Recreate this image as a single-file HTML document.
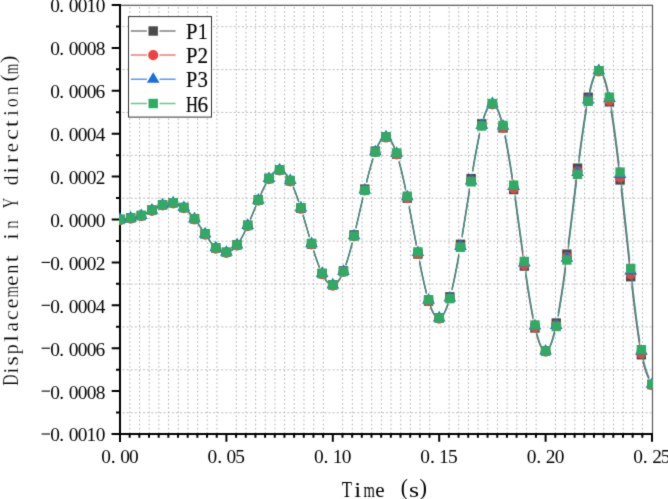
<!DOCTYPE html>
<html><head><meta charset="utf-8"><style>
html,body{margin:0;padding:0;background:#fff;}
svg{display:block;}
#w{width:668px;height:499px;}
</style></head><body>
<div id="w"><svg width="668" height="499" viewBox="0 0 668 499">
<rect width="668" height="499" fill="#fff"/>
<defs><filter id="bl" x="0" y="0" width="668" height="499" filterUnits="userSpaceOnUse" color-interpolation-filters="sRGB"><feConvolveMatrix order="3" kernelMatrix="0.01440 0.09120 0.01440 0.09120 0.57760 0.09120 0.01440 0.09120 0.01440" edgeMode="duplicate" preserveAlpha="true"/></filter></defs>
<g filter="url(#bl)">
<rect width="668" height="499" fill="#fff"/>
<path d="M129.87,7.1V433 M139.55,7.1V433 M149.22,7.1V433 M158.89,7.1V433 M168.56,7.1V433 M178.24,7.1V433 M187.91,7.1V433 M197.58,7.1V433 M207.25,7.1V433 M216.93,7.1V433 M236.27,7.1V433 M245.95,7.1V433 M255.62,7.1V433 M265.29,7.1V433 M274.96,7.1V433 M284.64,7.1V433 M294.31,7.1V433 M303.98,7.1V433 M313.65,7.1V433 M323.33,7.1V433 M342.67,7.1V433 M352.35,7.1V433 M362.02,7.1V433 M371.69,7.1V433 M381.36,7.1V433 M391.04,7.1V433 M400.71,7.1V433 M410.38,7.1V433 M420.05,7.1V433 M429.73,7.1V433 M449.07,7.1V433 M458.75,7.1V433 M468.42,7.1V433 M478.09,7.1V433 M487.76,7.1V433 M497.44,7.1V433 M507.11,7.1V433 M516.78,7.1V433 M526.45,7.1V433 M536.13,7.1V433 M555.47,7.1V433 M565.15,7.1V433 M574.82,7.1V433 M584.49,7.1V433 M594.16,7.1V433 M603.84,7.1V433 M613.51,7.1V433 M623.18,7.1V433 M632.85,7.1V433 M642.53,7.1V433" stroke="#b2b2b2" stroke-width="1" stroke-dasharray="1.6 2.525" fill="none"/>
<path d="M122.4,412.75H651.5 M122.4,369.85H651.5 M122.4,326.95H651.5 M122.4,284.05H651.5 M122.4,241.15H651.5 M122.4,198.25H651.5 M122.4,155.35H651.5 M122.4,112.45H651.5 M122.4,69.55H651.5 M122.4,26.65H651.5" stroke="#bebebe" stroke-width="1" stroke-dasharray="2.1 2.02" fill="none"/>
<path d="M120.0,4V442" stroke="#000" stroke-width="2" fill="none"/>
<path d="M111.7,434.0H653" stroke="#000" stroke-width="2" fill="none"/>
<path d="M121,5.3H653" stroke="#333" stroke-width="1.1" fill="none"/>
<path d="M652.5,5.0V433" stroke="#5a5a5a" stroke-width="1.2" fill="none"/>
<path d="M111.7,5.00H120.0 M111.7,47.90H120.0 M111.7,90.80H120.0 M111.7,133.70H120.0 M111.7,176.60H120.0 M111.7,219.50H120.0 M111.7,262.40H120.0 M111.7,305.30H120.0 M111.7,348.20H120.0 M111.7,391.10H120.0 M111.7,434.00H120.0 M116,26.45H120.0 M116,69.35H120.0 M116,112.25H120.0 M116,155.15H120.0 M116,198.05H120.0 M116,240.95H120.0 M116,283.85H120.0 M116,326.75H120.0 M116,369.65H120.0 M116,412.55H120.0 M120.00,434.0V441.8 M129.67,434.0V437.8 M139.35,434.0V437.8 M149.02,434.0V437.8 M158.69,434.0V437.8 M168.36,434.0V437.8 M178.04,434.0V437.8 M187.71,434.0V437.8 M197.38,434.0V437.8 M207.05,434.0V437.8 M216.73,434.0V437.8 M226.40,434.0V441.8 M236.07,434.0V437.8 M245.75,434.0V437.8 M255.42,434.0V437.8 M265.09,434.0V437.8 M274.76,434.0V437.8 M284.44,434.0V437.8 M294.11,434.0V437.8 M303.78,434.0V437.8 M313.45,434.0V437.8 M323.13,434.0V437.8 M332.80,434.0V441.8 M342.47,434.0V437.8 M352.15,434.0V437.8 M361.82,434.0V437.8 M371.49,434.0V437.8 M381.16,434.0V437.8 M390.84,434.0V437.8 M400.51,434.0V437.8 M410.18,434.0V437.8 M419.85,434.0V437.8 M429.53,434.0V437.8 M439.20,434.0V441.8 M448.87,434.0V437.8 M458.55,434.0V437.8 M468.22,434.0V437.8 M477.89,434.0V437.8 M487.56,434.0V437.8 M497.24,434.0V437.8 M506.91,434.0V437.8 M516.58,434.0V437.8 M526.25,434.0V437.8 M535.93,434.0V437.8 M545.60,434.0V441.8 M555.27,434.0V437.8 M564.95,434.0V437.8 M574.62,434.0V437.8 M584.29,434.0V437.8 M593.96,434.0V437.8 M603.64,434.0V437.8 M613.31,434.0V437.8 M622.98,434.0V437.8 M632.65,434.0V437.8 M642.33,434.0V437.8 M652.00,434.0V441.8" stroke="#000" stroke-width="2" fill="none"/>
<defs><clipPath id="pc"><rect x="119" y="5.0" width="534.0" height="429.0"/></clipPath></defs>
<g clip-path="url(#pc)">
<path d="M124.79,218.74 L125.05,218.70 L125.32,218.66 L125.59,218.62 L125.85,218.59 M135.43,217.11 L135.69,217.05 L135.96,217.00 L136.23,216.94 L136.49,216.89 M145.80,213.46 L146.07,213.32 L146.33,213.18 L146.60,213.04 L146.87,212.90 L147.13,212.76 L147.40,212.62 M156.44,207.65 L156.71,207.51 L156.97,207.37 L157.24,207.24 L157.51,207.10 L157.77,206.97 L158.04,206.84 M167.35,203.20 L167.61,203.14 L167.88,203.08 L168.15,203.02 M177.99,203.97 L178.25,204.09 L178.52,204.21 L178.79,204.33 L179.05,204.46 L179.32,204.60 L179.58,204.73 M187.83,211.10 L188.10,211.36 L188.36,211.63 L188.63,211.91 L188.89,212.19 L189.16,212.47 L189.43,212.75 L189.69,213.04 L189.96,213.33 L190.22,213.63 L190.49,213.92 L190.76,214.23 L191.02,214.53 M197.94,223.46 L198.20,223.83 L198.47,224.21 L198.74,224.59 L199.00,224.97 L199.27,225.35 L199.53,225.74 L199.80,226.12 L200.07,226.51 L200.33,226.90 L200.60,227.28 L200.86,227.67 L201.13,228.06 L201.40,228.46 L201.66,228.85 L201.93,229.24 M208.31,238.68 L208.58,239.06 L208.84,239.44 L209.11,239.82 L209.38,240.19 L209.64,240.56 L209.91,240.93 L210.17,241.29 L210.44,241.65 L210.71,242.01 L210.97,242.36 L211.24,242.71 L211.50,243.05 L211.77,243.39 L212.04,243.73 M219.75,250.87 L220.02,251.01 L220.28,251.14 L220.55,251.27 L220.81,251.40 L221.08,251.51 L221.35,251.62 M231.19,250.46 L231.45,250.28 L231.72,250.10 L231.99,249.91 L232.25,249.71 L232.52,249.51 L232.78,249.29 L233.05,249.07 L233.32,248.84 L233.58,248.60 M240.23,240.00 L240.50,239.55 L240.76,239.10 L241.03,238.64 L241.30,238.18 L241.56,237.70 L241.83,237.22 L242.09,236.74 L242.36,236.24 L242.63,235.75 L242.89,235.24 L243.16,234.73 L243.42,234.21 L243.69,233.69 L243.96,233.16 L244.22,232.63 L244.49,232.09 L244.75,231.55 L245.02,231.00 L245.29,230.44 M250.34,219.10 L250.61,218.47 L250.87,217.83 L251.14,217.20 L251.40,216.56 L251.67,215.92 L251.94,215.28 L252.20,214.64 L252.47,214.00 L252.73,213.36 L253.00,212.71 L253.27,212.07 L253.53,211.42 L253.80,210.78 L254.06,210.13 L254.33,209.48 L254.60,208.84 L254.86,208.19 L255.13,207.55 L255.39,206.90 L255.66,206.26 L255.93,205.62 M260.71,194.38 L260.98,193.79 L261.25,193.19 L261.51,192.61 L261.78,192.02 L262.04,191.45 L262.31,190.87 L262.58,190.30 L262.84,189.74 L263.11,189.18 L263.37,188.62 L263.64,188.07 L263.91,187.53 L264.17,186.99 L264.44,186.45 L264.70,185.93 L264.97,185.41 L265.24,184.89 L265.50,184.38 L265.77,183.88 M272.15,174.05 L272.42,173.75 L272.68,173.46 L272.95,173.18 L273.22,172.91 L273.48,172.65 L273.75,172.40 L274.01,172.16 L274.28,171.93 L274.55,171.71 L274.81,171.51 M284.39,172.32 L284.65,172.58 L284.92,172.85 L285.19,173.14 L285.45,173.43 L285.72,173.74 L285.98,174.06 L286.25,174.39 L286.52,174.73 L286.78,175.09 L287.05,175.46 L287.31,175.83 L287.58,176.22 M293.17,186.93 L293.43,187.55 L293.70,188.18 L293.96,188.82 L294.23,189.47 L294.50,190.13 L294.76,190.79 L295.03,191.47 L295.29,192.15 L295.56,192.85 L295.83,193.55 L296.09,194.26 L296.36,194.97 L296.62,195.70 L296.89,196.43 L297.16,197.17 L297.42,197.92 L297.69,198.68 L297.95,199.45 L298.22,200.22 L298.49,201.00 L298.75,201.78 M303.01,215.22 L303.27,216.11 L303.54,217.00 L303.81,217.89 L304.07,218.78 L304.34,219.68 L304.60,220.58 L304.87,221.48 L305.14,222.39 L305.40,223.30 L305.67,224.21 L305.93,225.12 L306.20,226.03 L306.47,226.94 L306.73,227.85 L307.00,228.77 L307.26,229.68 L307.53,230.59 L307.80,231.50 L308.06,232.42 L308.33,233.33 L308.59,234.24 L308.86,235.15 L309.13,236.05 L309.39,236.96 M313.65,250.95 L313.91,251.79 L314.18,252.61 L314.45,253.43 L314.71,254.25 L314.98,255.06 L315.24,255.86 L315.51,256.65 L315.78,257.44 L316.04,258.22 L316.31,258.99 L316.57,259.75 L316.84,260.51 L317.11,261.26 L317.37,262.00 L317.64,262.73 L317.90,263.45 L318.17,264.16 L318.44,264.87 L318.70,265.56 L318.97,266.25 L319.23,266.92 L319.50,267.59 M324.82,278.57 L325.09,278.99 L325.35,279.40 L325.62,279.79 L325.88,280.17 L326.15,280.53 L326.42,280.88 L326.68,281.22 L326.95,281.55 L327.21,281.86 L327.48,282.15 L327.75,282.43 L328.01,282.70 M337.32,282.06 L337.59,281.74 L337.85,281.42 L338.12,281.07 L338.39,280.71 L338.65,280.34 L338.92,279.95 L339.18,279.54 L339.45,279.12 L339.72,278.68 L339.98,278.23 L340.25,277.76 L340.51,277.27 L340.78,276.77 L341.05,276.26 M345.83,264.45 L346.10,263.66 L346.37,262.85 L346.63,262.04 L346.90,261.21 L347.16,260.37 L347.43,259.52 L347.70,258.66 L347.96,257.78 L348.23,256.90 L348.49,256.00 L348.76,255.09 L349.03,254.17 L349.29,253.25 L349.56,252.31 L349.82,251.36 L350.09,250.40 L350.36,249.43 L350.62,248.45 L350.89,247.46 L351.15,246.46 L351.42,245.45 L351.69,244.44 L351.95,243.41 L352.22,242.38 M355.94,227.16 L356.21,226.03 L356.47,224.89 L356.74,223.75 L357.01,222.61 L357.27,221.46 L357.54,220.31 L357.80,219.16 L358.07,218.00 L358.34,216.84 L358.60,215.68 L358.87,214.52 L359.13,213.35 L359.40,212.19 L359.67,211.02 L359.93,209.86 L360.20,208.69 L360.46,207.53 L360.73,206.36 L361.00,205.19 L361.26,204.03 L361.53,202.87 L361.79,201.70 L362.06,200.55 L362.33,199.39 L362.59,198.23 L362.86,197.08 M366.58,181.40 L366.85,180.33 L367.11,179.26 L367.38,178.20 L367.65,177.14 L367.91,176.10 L368.18,175.06 L368.44,174.03 L368.71,173.01 L368.98,172.00 L369.24,171.00 L369.51,170.01 L369.77,169.03 L370.04,168.05 L370.31,167.09 L370.57,166.14 L370.84,165.20 L371.10,164.27 L371.37,163.35 L371.64,162.45 L371.90,161.55 L372.17,160.67 L372.43,159.80 L372.70,158.95 L372.97,158.10 M377.49,145.99 L377.75,145.42 L378.02,144.87 L378.29,144.33 L378.55,143.82 L378.82,143.32 L379.08,142.83 L379.35,142.37 L379.62,141.92 L379.88,141.49 L380.15,141.07 L380.41,140.68 L380.68,140.30 L380.95,139.95 L381.21,139.61 M390.52,140.35 L390.79,140.74 L391.05,141.14 L391.32,141.57 L391.59,142.02 L391.85,142.49 L392.12,142.97 L392.38,143.48 L392.65,144.00 L392.92,144.55 L393.18,145.11 L393.45,145.69 L393.71,146.29 L393.98,146.91 L394.25,147.55 L394.51,148.20 L394.78,148.88 M399.03,162.10 L399.30,163.07 L399.57,164.05 L399.83,165.05 L400.10,166.06 L400.36,167.09 L400.63,168.14 L400.90,169.19 L401.16,170.26 L401.43,171.35 L401.69,172.44 L401.96,173.55 L402.23,174.68 L402.49,175.81 L402.76,176.96 L403.02,178.12 L403.29,179.30 L403.56,180.48 L403.82,181.67 L404.09,182.88 L404.35,184.10 L404.62,185.33 L404.89,186.56 L405.15,187.81 L405.42,189.07 L405.68,190.34 M409.14,207.59 L409.41,208.96 L409.67,210.34 L409.94,211.73 L410.21,213.12 L410.47,214.51 L410.74,215.91 L411.00,217.31 L411.27,218.72 L411.54,220.13 L411.80,221.54 L412.07,222.95 L412.33,224.37 L412.60,225.79 L412.87,227.21 L413.13,228.63 L413.40,230.05 L413.66,231.47 L413.93,232.89 L414.20,234.32 L414.46,235.74 L414.73,237.16 L414.99,238.58 L415.26,239.99 L415.53,241.41 L415.79,242.83 L416.06,244.24 L416.32,245.65 M419.52,262.22 L419.78,263.56 L420.05,264.90 L420.31,266.23 L420.58,267.54 L420.85,268.85 L421.11,270.15 L421.38,271.44 L421.64,272.72 L421.91,273.99 L422.18,275.25 L422.44,276.50 L422.71,277.73 L422.97,278.95 L423.24,280.16 L423.51,281.36 L423.77,282.54 L424.04,283.71 L424.30,284.87 L424.57,286.01 L424.84,287.14 L425.10,288.25 L425.37,289.34 L425.63,290.42 L425.90,291.48 L426.17,292.53 L426.43,293.55 M430.42,306.63 L430.69,307.33 L430.95,308.01 L431.22,308.67 L431.49,309.31 L431.75,309.92 L432.02,310.52 L432.28,311.09 L432.55,311.64 L432.82,312.16 L433.08,312.67 L433.35,313.15 L433.61,313.61 L433.88,314.05 L434.15,314.46 L434.41,314.85 M443.46,313.88 L443.72,313.43 L443.99,312.96 L444.25,312.47 L444.52,311.95 L444.79,311.41 L445.05,310.84 L445.32,310.25 L445.58,309.64 L445.85,309.01 L446.12,308.36 L446.38,307.68 L446.65,306.98 L446.91,306.26 L447.18,305.51 L447.45,304.74 L447.71,303.96 L447.98,303.14 M451.97,288.44 L452.23,287.29 L452.50,286.13 L452.77,284.96 L453.03,283.76 L453.30,282.55 L453.56,281.32 L453.83,280.07 L454.10,278.81 L454.36,277.53 L454.63,276.23 L454.89,274.92 L455.16,273.60 L455.43,272.26 L455.69,270.90 L455.96,269.53 L456.22,268.14 L456.49,266.75 L456.76,265.34 L457.02,263.91 L457.29,262.47 L457.55,261.02 L457.82,259.56 L458.09,258.09 L458.35,256.60 L458.62,255.10 L458.88,253.60 M462.08,234.77 L462.34,233.15 L462.61,231.52 L462.87,229.89 L463.14,228.25 L463.41,226.61 L463.67,224.97 L463.94,223.32 L464.20,221.66 L464.47,220.00 L464.74,218.34 L465.00,216.68 L465.27,215.02 L465.53,213.35 L465.80,211.68 L466.07,210.01 L466.33,208.34 L466.60,206.67 L466.86,205.00 L467.13,203.33 L467.40,201.66 L467.66,199.99 L467.93,198.33 L468.19,196.67 L468.46,195.00 L468.73,193.35 L468.99,191.69 L469.26,190.04 L469.52,188.39 M472.72,169.07 L472.98,167.51 L473.25,165.96 L473.51,164.42 L473.78,162.89 L474.05,161.38 L474.31,159.87 L474.58,158.37 L474.84,156.89 L475.11,155.42 L475.38,153.96 L475.64,152.51 L475.91,151.08 L476.17,149.66 L476.44,148.26 L476.71,146.87 L476.97,145.50 L477.24,144.14 L477.50,142.80 L477.77,141.48 L478.04,140.17 L478.30,138.88 L478.57,137.61 L478.83,136.36 L479.10,135.12 L479.37,133.91 L479.63,132.71 M483.36,118.24 L483.62,117.38 L483.89,116.55 L484.15,115.74 L484.42,114.95 L484.69,114.19 L484.95,113.46 L485.22,112.75 L485.48,112.06 L485.75,111.40 L486.02,110.77 L486.28,110.16 L486.55,109.58 L486.81,109.02 L487.08,108.49 L487.35,107.99 L487.61,107.51 M496.66,108.10 L496.92,108.61 L497.19,109.16 L497.45,109.73 L497.72,110.33 L497.99,110.96 L498.25,111.62 L498.52,112.30 L498.78,113.01 L499.05,113.74 L499.32,114.51 L499.58,115.30 L499.85,116.11 L500.11,116.96 L500.38,117.83 L500.65,118.72 L500.91,119.64 L501.18,120.59 L501.44,121.56 M504.90,136.49 L505.17,137.80 L505.43,139.14 L505.70,140.50 L505.97,141.88 L506.23,143.28 L506.50,144.70 L506.76,146.14 L507.03,147.60 L507.30,149.09 L507.56,150.59 L507.83,152.10 L508.09,153.64 L508.36,155.20 L508.63,156.77 L508.89,158.36 L509.16,159.97 L509.42,161.59 L509.69,163.23 L509.96,164.88 L510.22,166.55 L510.49,168.24 L510.75,169.94 L511.02,171.66 L511.29,173.38 L511.55,175.13 L511.82,176.88 L512.08,178.65 L512.35,180.43 M515.01,198.84 L515.28,200.73 L515.54,202.63 L515.81,204.53 L516.07,206.45 L516.34,208.36 L516.61,210.29 L516.87,212.21 L517.14,214.14 L517.40,216.08 L517.67,218.02 L517.94,219.96 L518.20,221.90 L518.47,223.85 L518.73,225.79 L519.00,227.74 L519.27,229.69 L519.53,231.63 L519.80,233.58 L520.06,235.52 L520.33,237.47 L520.60,239.41 L520.86,241.34 L521.13,243.28 L521.39,245.21 L521.66,247.13 L521.93,249.05 L522.19,250.97 L522.46,252.88 L522.72,254.78 L522.99,256.68 M525.65,275.15 L525.92,276.94 L526.18,278.72 L526.45,280.48 L526.71,282.23 L526.98,283.97 L527.25,285.69 L527.51,287.40 L527.78,289.10 L528.04,290.78 L528.31,292.44 L528.58,294.09 L528.84,295.73 L529.11,297.34 L529.37,298.94 L529.64,300.52 L529.91,302.09 L530.17,303.63 L530.44,305.16 L530.70,306.67 L530.97,308.16 L531.24,309.63 L531.50,311.08 L531.77,312.51 L532.03,313.92 L532.30,315.31 L532.57,316.68 L532.83,318.02 L533.10,319.35 M536.56,334.34 L536.82,335.32 L537.09,336.26 L537.35,337.18 L537.62,338.07 L537.89,338.94 L538.15,339.77 L538.42,340.58 L538.68,341.36 L538.95,342.11 L539.22,342.83 L539.48,343.52 L539.75,344.19 L540.01,344.82 L540.28,345.43 L540.55,346.00 L540.81,346.55 L541.08,347.06 M549.86,345.71 L550.12,345.11 L550.39,344.48 L550.65,343.82 L550.92,343.12 L551.19,342.40 L551.45,341.64 L551.72,340.86 L551.98,340.04 L552.25,339.19 L552.52,338.32 L552.78,337.41 L553.05,336.48 L553.31,335.51 L553.58,334.52 L553.85,333.50 L554.11,332.45 L554.38,331.37 L554.64,330.26 M558.10,313.40 L558.37,311.93 L558.63,310.43 L558.90,308.90 L559.17,307.35 L559.43,305.79 L559.70,304.19 L559.96,302.58 L560.23,300.94 L560.50,299.29 L560.76,297.61 L561.03,295.91 L561.29,294.19 L561.56,292.46 L561.83,290.70 L562.09,288.92 L562.36,287.13 L562.62,285.32 L562.89,283.48 L563.16,281.64 L563.42,279.77 L563.69,277.89 L563.95,275.99 L564.22,274.08 L564.49,272.15 L564.75,270.21 L565.02,268.25 L565.28,266.27 L565.55,264.29 M568.21,243.73 L568.48,241.62 L568.74,239.50 L569.01,237.37 L569.27,235.23 L569.54,233.09 L569.81,230.94 L570.07,228.78 L570.34,226.62 L570.60,224.45 L570.87,222.28 L571.14,220.11 L571.40,217.93 L571.67,215.75 L571.93,213.56 L572.20,211.38 L572.47,209.20 L572.73,207.01 L573.00,204.82 L573.26,202.64 L573.53,200.45 L573.80,198.27 L574.06,196.09 L574.33,193.91 L574.59,191.74 L574.86,189.57 L575.13,187.40 L575.39,185.24 L575.66,183.08 L575.92,180.93 L576.19,178.79 L576.46,176.65 M578.85,157.82 L579.12,155.78 L579.38,153.75 L579.65,151.74 L579.91,149.74 L580.18,147.75 L580.45,145.78 L580.71,143.82 L580.98,141.88 L581.24,139.96 L581.51,138.05 L581.78,136.16 L582.04,134.29 L582.31,132.43 L582.57,130.60 L582.84,128.78 L583.11,126.98 L583.37,125.20 L583.64,123.45 L583.90,121.71 L584.17,120.00 L584.44,118.31 L584.70,116.64 L584.97,114.99 L585.23,113.37 L585.50,111.77 L585.77,110.19 L586.03,108.65 L586.30,107.12 L586.56,105.63 M589.49,91.02 L589.76,89.87 L590.02,88.76 L590.29,87.67 L590.55,86.62 L590.82,85.59 L591.09,84.60 L591.35,83.64 L591.62,82.72 L591.88,81.82 L592.15,80.96 L592.42,80.13 L592.68,79.34 L592.95,78.58 L593.21,77.85 L593.48,77.15 L593.75,76.49 L594.01,75.87 L594.28,75.28 M603.06,76.41 L603.32,77.08 L603.59,77.78 L603.85,78.52 L604.12,79.29 L604.39,80.09 L604.65,80.94 L604.92,81.81 L605.18,82.72 L605.45,83.67 L605.72,84.65 L605.98,85.66 L606.25,86.71 L606.51,87.79 L606.78,88.90 L607.05,90.05 L607.31,91.23 L607.58,92.44 L607.84,93.68 L608.11,94.96 M611.04,111.10 L611.30,112.75 L611.57,114.42 L611.83,116.12 L612.10,117.85 L612.37,119.61 L612.63,121.39 L612.90,123.20 L613.16,125.03 L613.43,126.89 L613.70,128.77 L613.96,130.68 L614.23,132.60 L614.49,134.56 L614.76,136.53 L615.03,138.52 L615.29,140.54 L615.56,142.58 L615.82,144.64 L616.09,146.71 L616.36,148.81 L616.62,150.93 L616.89,153.06 L617.15,155.21 L617.42,157.38 L617.69,159.57 L617.95,161.77 L618.22,163.99 L618.48,166.22 L618.75,168.47 L619.02,170.74 M621.14,189.31 L621.41,191.68 L621.68,194.07 L621.94,196.46 L622.21,198.86 L622.47,201.26 L622.74,203.68 L623.01,206.10 L623.27,208.52 L623.54,210.96 L623.80,213.39 L624.07,215.83 L624.34,218.28 L624.60,220.73 L624.87,223.18 L625.13,225.63 L625.40,228.09 L625.67,230.55 L625.93,233.00 L626.20,235.46 L626.46,237.92 L626.73,240.37 L627.00,242.83 L627.26,245.28 L627.53,247.73 L627.79,250.17 L628.06,252.61 L628.33,255.05 L628.59,257.48 L628.86,259.91 L629.12,262.33 L629.39,264.75 L629.66,267.15 M631.78,286.09 L632.05,288.40 L632.32,290.70 L632.58,292.99 L632.85,295.26 L633.11,297.52 L633.38,299.75 L633.65,301.97 L633.91,304.17 L634.18,306.35 L634.44,308.51 L634.71,310.65 L634.98,312.77 L635.24,314.86 L635.51,316.93 L635.77,318.98 L636.04,320.99 L636.31,322.99 L636.57,324.95 L636.84,326.89 L637.10,328.80 L637.37,330.68 L637.64,332.53 L637.90,334.35 L638.17,336.13 L638.43,337.89 L638.70,339.61 L638.97,341.29 L639.23,342.94 L639.50,344.55 L639.76,346.13 M642.96,361.94 L643.22,363.00 L643.49,364.02 L643.75,365.01 L644.02,365.97 L644.29,366.90 L644.55,367.80 L644.82,368.66 L645.08,369.50 L645.35,370.31 L645.62,371.09 L645.88,371.85 L646.15,372.58 L646.41,373.29 L646.68,373.98 L646.95,374.64 L647.21,375.29 L647.48,375.91 L647.74,376.52 L648.01,377.11 L648.28,377.68 L648.54,378.24 L648.81,378.79" stroke="#4A4A4A" stroke-width="1.2" stroke-opacity="0.75" fill="none" stroke-linejoin="round"/>
<rect x="115.30" y="214.70" width="9.4" height="9.4" fill="#4A4A4A"/><rect x="125.94" y="213.20" width="9.4" height="9.4" fill="#4A4A4A"/><rect x="136.58" y="210.80" width="9.4" height="9.4" fill="#4A4A4A"/><rect x="147.22" y="205.39" width="9.4" height="9.4" fill="#4A4A4A"/><rect x="157.86" y="200.09" width="9.4" height="9.4" fill="#4A4A4A"/><rect x="168.50" y="198.00" width="9.4" height="9.4" fill="#4A4A4A"/><rect x="179.14" y="202.83" width="9.4" height="9.4" fill="#4A4A4A"/><rect x="189.78" y="214.07" width="9.4" height="9.4" fill="#4A4A4A"/><rect x="200.42" y="229.29" width="9.4" height="9.4" fill="#4A4A4A"/><rect x="211.06" y="243.17" width="9.4" height="9.4" fill="#4A4A4A"/><rect x="221.70" y="247.59" width="9.4" height="9.4" fill="#4A4A4A"/><rect x="232.34" y="240.06" width="9.4" height="9.4" fill="#4A4A4A"/><rect x="242.98" y="220.54" width="9.4" height="9.4" fill="#4A4A4A"/><rect x="253.62" y="195.20" width="9.4" height="9.4" fill="#4A4A4A"/><rect x="264.26" y="173.68" width="9.4" height="9.4" fill="#4A4A4A"/><rect x="274.90" y="165.12" width="9.4" height="9.4" fill="#4A4A4A"/><rect x="285.54" y="176.04" width="9.4" height="9.4" fill="#4A4A4A"/><rect x="296.18" y="203.61" width="9.4" height="9.4" fill="#4A4A4A"/><rect x="306.82" y="239.39" width="9.4" height="9.4" fill="#4A4A4A"/><rect x="317.46" y="268.97" width="9.4" height="9.4" fill="#4A4A4A"/><rect x="328.10" y="280.17" width="9.4" height="9.4" fill="#4A4A4A"/><rect x="338.74" y="266.24" width="9.4" height="9.4" fill="#4A4A4A"/><rect x="349.38" y="230.23" width="9.4" height="9.4" fill="#4A4A4A"/><rect x="360.02" y="184.42" width="9.4" height="9.4" fill="#4A4A4A"/><rect x="370.66" y="146.44" width="9.4" height="9.4" fill="#4A4A4A"/><rect x="381.30" y="132.14" width="9.4" height="9.4" fill="#4A4A4A"/><rect x="391.94" y="149.41" width="9.4" height="9.4" fill="#4A4A4A"/><rect x="402.58" y="193.44" width="9.4" height="9.4" fill="#4A4A4A"/><rect x="413.22" y="249.33" width="9.4" height="9.4" fill="#4A4A4A"/><rect x="423.86" y="296.40" width="9.4" height="9.4" fill="#4A4A4A"/><rect x="434.50" y="313.13" width="9.4" height="9.4" fill="#4A4A4A"/><rect x="445.14" y="292.16" width="9.4" height="9.4" fill="#4A4A4A"/><rect x="455.78" y="239.64" width="9.4" height="9.4" fill="#4A4A4A"/><rect x="466.42" y="173.91" width="9.4" height="9.4" fill="#4A4A4A"/><rect x="477.06" y="119.20" width="9.4" height="9.4" fill="#4A4A4A"/><rect x="487.70" y="98.96" width="9.4" height="9.4" fill="#4A4A4A"/><rect x="498.34" y="123.23" width="9.4" height="9.4" fill="#4A4A4A"/><rect x="508.98" y="184.81" width="9.4" height="9.4" fill="#4A4A4A"/><rect x="519.62" y="261.34" width="9.4" height="9.4" fill="#4A4A4A"/><rect x="530.26" y="323.25" width="9.4" height="9.4" fill="#4A4A4A"/><rect x="540.90" y="346.21" width="9.4" height="9.4" fill="#4A4A4A"/><rect x="551.54" y="318.34" width="9.4" height="9.4" fill="#4A4A4A"/><rect x="562.18" y="249.46" width="9.4" height="9.4" fill="#4A4A4A"/><rect x="572.82" y="163.48" width="9.4" height="9.4" fill="#4A4A4A"/><rect x="583.46" y="92.52" width="9.4" height="9.4" fill="#4A4A4A"/><rect x="594.10" y="66.05" width="9.4" height="9.4" fill="#4A4A4A"/><rect x="604.74" y="97.13" width="9.4" height="9.4" fill="#4A4A4A"/><rect x="615.38" y="175.23" width="9.4" height="9.4" fill="#4A4A4A"/><rect x="626.02" y="272.00" width="9.4" height="9.4" fill="#4A4A4A"/><rect x="636.66" y="350.07" width="9.4" height="9.4" fill="#4A4A4A"/><rect x="647.30" y="379.94" width="9.4" height="9.4" fill="#4A4A4A"/>
<path d="M124.79,219.44 L125.05,219.40 L125.32,219.36 L125.59,219.32 L125.85,219.29 M135.43,217.81 L135.69,217.75 L135.96,217.70 L136.23,217.64 L136.49,217.59 M145.80,214.16 L146.07,214.02 L146.33,213.88 L146.60,213.74 L146.87,213.60 L147.13,213.46 L147.40,213.32 M156.44,208.35 L156.71,208.21 L156.97,208.08 L157.24,207.94 L157.51,207.81 L157.77,207.67 L158.04,207.54 M167.35,203.90 L167.61,203.84 L167.88,203.78 L168.15,203.72 M177.99,204.67 L178.25,204.78 L178.52,204.90 L178.79,205.03 L179.05,205.15 L179.32,205.29 L179.58,205.43 M187.83,211.78 L188.10,212.04 L188.36,212.31 L188.63,212.59 L188.89,212.87 L189.16,213.15 L189.43,213.43 L189.69,213.72 L189.96,214.01 L190.22,214.30 L190.49,214.60 L190.76,214.90 L191.02,215.21 M197.94,224.13 L198.20,224.50 L198.47,224.88 L198.74,225.26 L199.00,225.64 L199.27,226.02 L199.53,226.40 L199.80,226.79 L200.07,227.18 L200.33,227.56 L200.60,227.95 L200.86,228.34 L201.13,228.73 L201.40,229.12 L201.66,229.51 L201.93,229.91 M208.31,239.35 L208.58,239.73 L208.84,240.10 L209.11,240.48 L209.38,240.85 L209.64,241.22 L209.91,241.59 L210.17,241.95 L210.44,242.31 L210.71,242.67 L210.97,243.02 L211.24,243.37 L211.50,243.72 L211.77,244.06 L212.04,244.39 M219.75,251.55 L220.02,251.69 L220.28,251.83 L220.55,251.96 L220.81,252.08 L221.08,252.20 L221.35,252.30 M231.19,251.18 L231.45,251.01 L231.72,250.83 L231.99,250.64 L232.25,250.44 L232.52,250.24 L232.78,250.03 L233.05,249.81 L233.32,249.58 L233.58,249.34 M240.23,240.77 L240.50,240.33 L240.76,239.87 L241.03,239.42 L241.30,238.95 L241.56,238.48 L241.83,238.00 L242.09,237.52 L242.36,237.03 L242.63,236.53 L242.89,236.02 L243.16,235.52 L243.42,235.00 L243.69,234.48 L243.96,233.95 L244.22,233.42 L244.49,232.88 L244.75,232.34 L245.02,231.79 L245.29,231.24 M250.34,219.91 L250.61,219.28 L250.87,218.65 L251.14,218.01 L251.40,217.38 L251.67,216.74 L251.94,216.10 L252.20,215.46 L252.47,214.82 L252.73,214.17 L253.00,213.53 L253.27,212.89 L253.53,212.24 L253.80,211.60 L254.06,210.95 L254.33,210.30 L254.60,209.66 L254.86,209.01 L255.13,208.37 L255.39,207.72 L255.66,207.08 L255.93,206.44 M260.71,195.20 L260.98,194.61 L261.25,194.01 L261.51,193.42 L261.78,192.84 L262.04,192.26 L262.31,191.69 L262.58,191.12 L262.84,190.55 L263.11,189.99 L263.37,189.43 L263.64,188.88 L263.91,188.34 L264.17,187.80 L264.44,187.26 L264.70,186.74 L264.97,186.21 L265.24,185.70 L265.50,185.19 L265.77,184.68 L266.03,184.18 M272.15,174.82 L272.42,174.51 L272.68,174.22 L272.95,173.94 L273.22,173.67 L273.48,173.40 L273.75,173.15 L274.01,172.91 L274.28,172.68 L274.55,172.46 L274.81,172.25 M284.39,172.96 L284.65,173.21 L284.92,173.48 L285.19,173.76 L285.45,174.05 L285.72,174.36 L285.98,174.68 L286.25,175.00 L286.52,175.34 L286.78,175.70 L287.05,176.06 L287.31,176.43 L287.58,176.82 M293.17,187.46 L293.43,188.07 L293.70,188.70 L293.96,189.34 L294.23,189.98 L294.50,190.64 L294.76,191.30 L295.03,191.98 L295.29,192.66 L295.56,193.35 L295.83,194.05 L296.09,194.75 L296.36,195.47 L296.62,196.19 L296.89,196.92 L297.16,197.66 L297.42,198.41 L297.69,199.16 L297.95,199.92 L298.22,200.69 L298.49,201.47 L298.75,202.25 M303.01,215.66 L303.27,216.55 L303.54,217.43 L303.81,218.32 L304.07,219.22 L304.34,220.11 L304.60,221.01 L304.87,221.91 L305.14,222.82 L305.40,223.72 L305.67,224.63 L305.93,225.54 L306.20,226.45 L306.47,227.36 L306.73,228.28 L307.00,229.19 L307.26,230.10 L307.53,231.01 L307.80,231.93 L308.06,232.84 L308.33,233.75 L308.59,234.66 L308.86,235.57 L309.13,236.47 L309.39,237.38 M313.65,251.38 L313.91,252.22 L314.18,253.05 L314.45,253.87 L314.71,254.68 L314.98,255.49 L315.24,256.30 L315.51,257.09 L315.78,257.88 L316.04,258.66 L316.31,259.44 L316.57,260.20 L316.84,260.96 L317.11,261.71 L317.37,262.45 L317.64,263.19 L317.90,263.91 L318.17,264.63 L318.44,265.34 L318.70,266.03 L318.97,266.72 L319.23,267.40 L319.50,268.07 M324.82,279.12 L325.09,279.55 L325.35,279.96 L325.62,280.36 L325.88,280.74 L326.15,281.11 L326.42,281.47 L326.68,281.81 L326.95,282.14 L327.21,282.45 L327.48,282.75 L327.75,283.04 L328.01,283.31 M337.59,282.57 L337.85,282.25 L338.12,281.91 L338.39,281.56 L338.65,281.19 L338.92,280.80 L339.18,280.40 L339.45,279.99 L339.72,279.56 L339.98,279.11 L340.25,278.65 L340.51,278.17 L340.78,277.68 L341.05,277.17 M345.83,265.47 L346.10,264.68 L346.37,263.89 L346.63,263.08 L346.90,262.26 L347.16,261.42 L347.43,260.58 L347.70,259.72 L347.96,258.85 L348.23,257.97 L348.49,257.08 L348.76,256.18 L349.03,255.26 L349.29,254.34 L349.56,253.40 L349.82,252.46 L350.09,251.50 L350.36,250.54 L350.62,249.56 L350.89,248.58 L351.15,247.58 L351.42,246.58 L351.69,245.57 L351.95,244.55 L352.22,243.52 M355.94,228.35 L356.21,227.22 L356.47,226.09 L356.74,224.95 L357.01,223.81 L357.27,222.66 L357.54,221.51 L357.80,220.36 L358.07,219.21 L358.34,218.05 L358.60,216.89 L358.87,215.73 L359.13,214.57 L359.40,213.41 L359.67,212.24 L359.93,211.08 L360.20,209.91 L360.46,208.75 L360.73,207.58 L361.00,206.42 L361.26,205.25 L361.53,204.09 L361.79,202.93 L362.06,201.77 L362.33,200.61 L362.59,199.45 L362.86,198.30 M366.58,182.60 L366.85,181.53 L367.11,180.45 L367.38,179.39 L367.65,178.33 L367.91,177.28 L368.18,176.24 L368.44,175.21 L368.71,174.19 L368.98,173.17 L369.24,172.17 L369.51,171.17 L369.77,170.19 L370.04,169.21 L370.31,168.24 L370.57,167.29 L370.84,166.34 L371.10,165.41 L371.37,164.49 L371.64,163.58 L371.90,162.68 L372.17,161.79 L372.43,160.92 L372.70,160.05 L372.97,159.20 M377.49,146.98 L377.75,146.40 L378.02,145.84 L378.29,145.29 L378.55,144.77 L378.82,144.26 L379.08,143.76 L379.35,143.29 L379.62,142.83 L379.88,142.39 L380.15,141.97 L380.41,141.57 L380.68,141.18 L380.95,140.82 L381.21,140.47 M390.52,140.84 L390.79,141.22 L391.05,141.62 L391.32,142.03 L391.59,142.47 L391.85,142.93 L392.12,143.40 L392.38,143.90 L392.65,144.41 L392.92,144.94 L393.18,145.49 L393.45,146.07 L393.71,146.65 L393.98,147.26 L394.25,147.89 L394.51,148.54 M399.03,162.26 L399.30,163.22 L399.57,164.19 L399.83,165.18 L400.10,166.19 L400.36,167.21 L400.63,168.24 L400.90,169.29 L401.16,170.35 L401.43,171.42 L401.69,172.51 L401.96,173.62 L402.23,174.73 L402.49,175.86 L402.76,177.00 L403.02,178.15 L403.29,179.32 L403.56,180.49 L403.82,181.68 L404.09,182.88 L404.35,184.09 L404.62,185.31 L404.89,186.54 L405.15,187.78 L405.42,189.03 L405.68,190.30 M409.14,207.47 L409.41,208.84 L409.67,210.22 L409.94,211.60 L410.21,212.99 L410.47,214.38 L410.74,215.77 L411.00,217.17 L411.27,218.57 L411.54,219.98 L411.80,221.39 L412.07,222.80 L412.33,224.21 L412.60,225.63 L412.87,227.05 L413.13,228.47 L413.40,229.89 L413.66,231.31 L413.93,232.73 L414.20,234.15 L414.46,235.57 L414.73,236.99 L414.99,238.41 L415.26,239.83 L415.53,241.24 L415.79,242.66 L416.06,244.07 L416.32,245.48 M419.52,262.09 L419.78,263.44 L420.05,264.78 L420.31,266.11 L420.58,267.43 L420.85,268.74 L421.11,270.05 L421.38,271.35 L421.64,272.63 L421.91,273.91 L422.18,275.17 L422.44,276.42 L422.71,277.67 L422.97,278.90 L423.24,280.11 L423.51,281.32 L423.77,282.51 L424.04,283.69 L424.30,284.85 L424.57,286.00 L424.84,287.14 L425.10,288.25 L425.37,289.36 L425.63,290.45 L425.90,291.52 L426.17,292.57 L426.43,293.61 M430.42,306.86 L430.69,307.57 L430.95,308.27 L431.22,308.94 L431.49,309.59 L431.75,310.22 L432.02,310.83 L432.28,311.42 L432.55,311.98 L432.82,312.52 L433.08,313.04 L433.35,313.54 L433.61,314.01 L433.88,314.46 L434.15,314.89 L434.41,315.30 M443.72,314.46 L443.99,314.01 L444.25,313.53 L444.52,313.03 L444.79,312.50 L445.05,311.95 L445.32,311.38 L445.58,310.79 L445.85,310.17 L446.12,309.54 L446.38,308.88 L446.65,308.19 L446.91,307.49 L447.18,306.76 L447.45,306.01 L447.71,305.24 L447.98,304.44 M451.97,289.96 L452.23,288.84 L452.50,287.69 L452.77,286.53 L453.03,285.35 L453.30,284.15 L453.56,282.93 L453.83,281.70 L454.10,280.45 L454.36,279.18 L454.63,277.90 L454.89,276.60 L455.16,275.29 L455.43,273.96 L455.69,272.61 L455.96,271.25 L456.22,269.88 L456.49,268.50 L456.76,267.10 L457.02,265.68 L457.29,264.26 L457.55,262.82 L457.82,261.36 L458.09,259.90 L458.35,258.43 L458.62,256.94 L458.88,255.44 M462.08,236.71 L462.34,235.09 L462.61,233.47 L462.87,231.85 L463.14,230.22 L463.41,228.58 L463.67,226.94 L463.94,225.29 L464.20,223.64 L464.47,221.99 L464.74,220.33 L465.00,218.67 L465.27,217.01 L465.53,215.35 L465.80,213.68 L466.07,212.01 L466.33,210.34 L466.60,208.67 L466.86,207.01 L467.13,205.34 L467.40,203.67 L467.66,202.00 L467.93,200.34 L468.19,198.67 L468.46,197.01 L468.73,195.35 L468.99,193.69 L469.26,192.04 L469.52,190.39 M472.72,171.02 L472.98,169.45 L473.25,167.90 L473.51,166.35 L473.78,164.81 L474.05,163.28 L474.31,161.77 L474.58,160.26 L474.84,158.77 L475.11,157.29 L475.38,155.82 L475.64,154.37 L475.91,152.92 L476.17,151.50 L476.44,150.08 L476.71,148.68 L476.97,147.30 L477.24,145.93 L477.50,144.58 L477.77,143.24 L478.04,141.92 L478.30,140.62 L478.57,139.33 L478.83,138.07 L479.10,136.82 L479.37,135.59 L479.63,134.38 M483.36,119.66 L483.62,118.79 L483.89,117.93 L484.15,117.10 L484.42,116.30 L484.69,115.52 L484.95,114.76 L485.22,114.03 L485.48,113.32 L485.75,112.64 L486.02,111.99 L486.28,111.36 L486.55,110.75 L486.81,110.17 L487.08,109.62 L487.35,109.10 L487.61,108.60 L487.88,108.12 M496.92,108.84 L497.19,109.36 L497.45,109.91 L497.72,110.48 L497.99,111.08 L498.25,111.71 L498.52,112.37 L498.78,113.06 L499.05,113.77 L499.32,114.51 L499.58,115.27 L499.85,116.06 L500.11,116.88 L500.38,117.72 L500.65,118.60 L500.91,119.49 L501.18,120.41 L501.44,121.36 M504.90,136.00 L505.17,137.29 L505.43,138.61 L505.70,139.94 L505.97,141.30 L506.23,142.68 L506.50,144.08 L506.76,145.51 L507.03,146.95 L507.30,148.41 L507.56,149.89 L507.83,151.39 L508.09,152.91 L508.36,154.45 L508.63,156.00 L508.89,157.57 L509.16,159.16 L509.42,160.77 L509.69,162.39 L509.96,164.03 L510.22,165.68 L510.49,167.36 L510.75,169.04 L511.02,170.74 L511.29,172.45 L511.55,174.18 L511.82,175.92 L512.08,177.68 L512.35,179.45 M515.01,197.75 L515.28,199.63 L515.54,201.52 L515.81,203.42 L516.07,205.32 L516.34,207.23 L516.61,209.15 L516.87,211.07 L517.14,213.00 L517.40,214.93 L517.67,216.86 L517.94,218.80 L518.20,220.74 L518.47,222.68 L518.73,224.62 L519.00,226.57 L519.27,228.51 L519.53,230.46 L519.80,232.40 L520.06,234.35 L520.33,236.29 L520.60,238.23 L520.86,240.17 L521.13,242.10 L521.39,244.04 L521.66,245.96 L521.93,247.89 L522.19,249.81 L522.46,251.72 L522.72,253.63 L522.99,255.53 M525.65,274.07 L525.92,275.87 L526.18,277.66 L526.45,279.43 L526.71,281.20 L526.98,282.95 L527.25,284.68 L527.51,286.40 L527.78,288.11 L528.04,289.81 L528.31,291.49 L528.58,293.15 L528.84,294.80 L529.11,296.43 L529.37,298.04 L529.64,299.64 L529.91,301.22 L530.17,302.79 L530.44,304.33 L530.70,305.86 L530.97,307.37 L531.24,308.86 L531.50,310.33 L531.77,311.78 L532.03,313.21 L532.30,314.62 L532.57,316.01 L532.83,317.37 L533.10,318.72 M536.56,334.03 L536.82,335.03 L537.09,336.01 L537.35,336.96 L537.62,337.88 L537.89,338.77 L538.15,339.63 L538.42,340.47 L538.68,341.28 L538.95,342.06 L539.22,342.81 L539.48,343.54 L539.75,344.23 L540.01,344.90 L540.28,345.53 L540.55,346.14 L540.81,346.71 L541.08,347.26 M549.86,347.04 L550.12,346.47 L550.39,345.88 L550.65,345.25 L550.92,344.59 L551.19,343.90 L551.45,343.18 L551.72,342.42 L551.98,341.64 L552.25,340.83 L552.52,339.99 L552.78,339.12 L553.05,338.22 L553.31,337.28 L553.58,336.32 L553.85,335.34 L554.11,334.32 L554.38,333.27 L554.64,332.20 M558.10,315.73 L558.37,314.29 L558.63,312.81 L558.90,311.32 L559.17,309.80 L559.43,308.26 L559.70,306.69 L559.96,305.10 L560.23,303.49 L560.50,301.86 L560.76,300.21 L561.03,298.54 L561.29,296.84 L561.56,295.13 L561.83,293.40 L562.09,291.65 L562.36,289.87 L562.62,288.08 L562.89,286.28 L563.16,284.45 L563.42,282.61 L563.69,280.75 L563.95,278.87 L564.22,276.98 L564.49,275.07 L564.75,273.14 L565.02,271.20 L565.28,269.25 L565.55,267.28 M568.21,246.87 L568.48,244.77 L568.74,242.66 L569.01,240.54 L569.27,238.41 L569.54,236.28 L569.81,234.14 L570.07,231.99 L570.34,229.83 L570.60,227.67 L570.87,225.51 L571.14,223.34 L571.40,221.17 L571.67,218.99 L571.93,216.82 L572.20,214.64 L572.47,212.45 L572.73,210.27 L573.00,208.09 L573.26,205.90 L573.53,203.72 L573.80,201.54 L574.06,199.36 L574.33,197.18 L574.59,195.00 L574.86,192.83 L575.13,190.66 L575.39,188.49 L575.66,186.33 L575.92,184.18 L576.19,182.03 L576.46,179.88 M578.85,160.96 L579.12,158.91 L579.38,156.86 L579.65,154.84 L579.91,152.82 L580.18,150.82 L580.45,148.83 L580.71,146.86 L580.98,144.90 L581.24,142.96 L581.51,141.03 L581.78,139.12 L582.04,137.23 L582.31,135.35 L582.57,133.49 L582.84,131.65 L583.11,129.83 L583.37,128.03 L583.64,126.25 L583.90,124.49 L584.17,122.75 L584.44,121.04 L584.70,119.34 L584.97,117.67 L585.23,116.02 L585.50,114.39 L585.77,112.79 L586.03,111.21 L586.30,109.66 L586.56,108.13 M589.49,93.15 L589.76,91.97 L590.02,90.81 L590.29,89.69 L590.55,88.60 L590.82,87.53 L591.09,86.50 L591.35,85.51 L591.62,84.54 L591.88,83.60 L592.15,82.70 L592.42,81.83 L592.68,81.00 L592.95,80.19 L593.21,79.42 L593.48,78.69 L593.75,77.98 L594.01,77.31 L594.28,76.68 L594.54,76.08 M603.06,76.28 L603.32,76.89 L603.59,77.55 L603.85,78.24 L604.12,78.96 L604.39,79.72 L604.65,80.52 L604.92,81.35 L605.18,82.21 L605.45,83.11 L605.72,84.04 L605.98,85.01 L606.25,86.01 L606.51,87.05 L606.78,88.12 L607.05,89.22 L607.31,90.35 L607.58,91.52 L607.84,92.72 L608.11,93.96 M611.04,109.64 L611.30,111.25 L611.57,112.89 L611.83,114.55 L612.10,116.24 L612.37,117.96 L612.63,119.71 L612.90,121.48 L613.16,123.28 L613.43,125.10 L613.70,126.95 L613.96,128.82 L614.23,130.71 L614.49,132.63 L614.76,134.57 L615.03,136.54 L615.29,138.52 L615.56,140.53 L615.82,142.55 L616.09,144.60 L616.36,146.67 L616.62,148.76 L616.89,150.86 L617.15,152.99 L617.42,155.13 L617.69,157.29 L617.95,159.47 L618.22,161.66 L618.48,163.87 L618.75,166.10 L619.02,168.34 M621.14,186.76 L621.41,189.11 L621.68,191.48 L621.94,193.85 L622.21,196.24 L622.47,198.63 L622.74,201.03 L623.01,203.44 L623.27,205.86 L623.54,208.28 L623.80,210.71 L624.07,213.14 L624.34,215.58 L624.60,218.02 L624.87,220.46 L625.13,222.91 L625.40,225.36 L625.67,227.82 L625.93,230.27 L626.20,232.73 L626.46,235.19 L626.73,237.64 L627.00,240.10 L627.26,242.55 L627.53,245.00 L627.79,247.45 L628.06,249.90 L628.33,252.35 L628.59,254.79 L628.86,257.22 L629.12,259.65 L629.39,262.08 L629.66,264.50 M631.78,283.57 L632.05,285.91 L632.32,288.24 L632.58,290.55 L632.85,292.85 L633.11,295.13 L633.38,297.39 L633.65,299.64 L633.91,301.87 L634.18,304.08 L634.44,306.27 L634.71,308.44 L634.98,310.59 L635.24,312.72 L635.51,314.82 L635.77,316.90 L636.04,318.96 L636.31,320.99 L636.57,322.99 L636.84,324.96 L637.10,326.91 L637.37,328.83 L637.64,330.72 L637.90,332.58 L638.17,334.40 L638.43,336.19 L638.70,337.95 L638.97,339.68 L639.23,341.37 L639.50,343.03 L639.76,344.64 M642.96,360.96 L643.22,362.06 L643.49,363.13 L643.75,364.16 L644.02,365.17 L644.29,366.14 L644.55,367.07 L644.82,367.98 L645.08,368.86 L645.35,369.72 L645.62,370.54 L645.88,371.34 L646.15,372.12 L646.41,372.87 L646.68,373.60 L646.95,374.31 L647.21,374.99 L647.48,375.66 L647.74,376.31 L648.01,376.95 L648.28,377.57 L648.54,378.17 L648.81,378.76" stroke="#F14040" stroke-width="1.2" stroke-opacity="0.75" fill="none" stroke-linejoin="round"/>
<circle cx="120.00" cy="220.10" r="5.1" fill="#F14040"/><circle cx="130.64" cy="218.60" r="5.1" fill="#F14040"/><circle cx="141.28" cy="216.20" r="5.1" fill="#F14040"/><circle cx="151.92" cy="210.80" r="5.1" fill="#F14040"/><circle cx="162.56" cy="205.50" r="5.1" fill="#F14040"/><circle cx="173.20" cy="203.40" r="5.1" fill="#F14040"/><circle cx="183.84" cy="208.22" r="5.1" fill="#F14040"/><circle cx="194.48" cy="219.44" r="5.1" fill="#F14040"/><circle cx="205.12" cy="234.65" r="5.1" fill="#F14040"/><circle cx="215.76" cy="248.54" r="5.1" fill="#F14040"/><circle cx="226.40" cy="252.99" r="5.1" fill="#F14040"/><circle cx="237.04" cy="245.52" r="5.1" fill="#F14040"/><circle cx="247.68" cy="226.05" r="5.1" fill="#F14040"/><circle cx="258.32" cy="200.72" r="5.1" fill="#F14040"/><circle cx="268.96" cy="179.17" r="5.1" fill="#F14040"/><circle cx="279.60" cy="170.51" r="5.1" fill="#F14040"/><circle cx="290.24" cy="181.30" r="5.1" fill="#F14040"/><circle cx="300.88" cy="208.77" r="5.1" fill="#F14040"/><circle cx="311.52" cy="244.51" r="5.1" fill="#F14040"/><circle cx="322.16" cy="274.18" r="5.1" fill="#F14040"/><circle cx="332.80" cy="285.59" r="5.1" fill="#F14040"/><circle cx="343.44" cy="271.91" r="5.1" fill="#F14040"/><circle cx="354.08" cy="236.10" r="5.1" fill="#F14040"/><circle cx="364.72" cy="190.33" r="5.1" fill="#F14040"/><circle cx="375.36" cy="152.18" r="5.1" fill="#F14040"/><circle cx="386.00" cy="137.52" r="5.1" fill="#F14040"/><circle cx="396.64" cy="154.36" r="5.1" fill="#F14040"/><circle cx="407.28" cy="198.06" r="5.1" fill="#F14040"/><circle cx="417.92" cy="253.87" r="5.1" fill="#F14040"/><circle cx="428.56" cy="301.25" r="5.1" fill="#F14040"/><circle cx="439.20" cy="318.57" r="5.1" fill="#F14040"/><circle cx="449.84" cy="298.27" r="5.1" fill="#F14040"/><circle cx="460.48" cy="246.23" r="5.1" fill="#F14040"/><circle cx="471.12" cy="180.59" r="5.1" fill="#F14040"/><circle cx="481.76" cy="125.43" r="5.1" fill="#F14040"/><circle cx="492.40" cy="104.32" r="5.1" fill="#F14040"/><circle cx="503.04" cy="127.60" r="5.1" fill="#F14040"/><circle cx="513.68" cy="188.47" r="5.1" fill="#F14040"/><circle cx="524.32" cy="264.92" r="5.1" fill="#F14040"/><circle cx="534.96" cy="327.48" r="5.1" fill="#F14040"/><circle cx="545.60" cy="351.68" r="5.1" fill="#F14040"/><circle cx="556.24" cy="325.16" r="5.1" fill="#F14040"/><circle cx="566.88" cy="257.22" r="5.1" fill="#F14040"/><circle cx="577.52" cy="171.38" r="5.1" fill="#F14040"/><circle cx="588.16" cy="99.53" r="5.1" fill="#F14040"/><circle cx="598.80" cy="71.38" r="5.1" fill="#F14040"/><circle cx="609.44" cy="100.62" r="5.1" fill="#F14040"/><circle cx="620.08" cy="177.45" r="5.1" fill="#F14040"/><circle cx="630.72" cy="274.11" r="5.1" fill="#F14040"/><circle cx="641.36" cy="353.53" r="5.1" fill="#F14040"/><circle cx="652.00" cy="385.13" r="5.1" fill="#F14040"/>
<path d="M124.79,218.74 L125.05,218.70 L125.32,218.66 L125.59,218.62 L125.85,218.59 M135.43,217.11 L135.69,217.05 L135.96,217.00 L136.23,216.94 L136.49,216.89 M145.80,213.46 L146.07,213.32 L146.33,213.19 L146.60,213.05 L146.87,212.91 L147.13,212.76 L147.40,212.62 M156.44,207.65 L156.71,207.51 L156.97,207.38 L157.24,207.24 L157.51,207.11 L157.77,206.98 L158.04,206.84 M167.35,203.20 L167.61,203.14 L167.88,203.08 L168.15,203.02 M177.99,203.96 L178.25,204.08 L178.52,204.20 L178.79,204.32 L179.05,204.45 L179.32,204.58 L179.58,204.72 M187.83,211.06 L188.10,211.33 L188.36,211.60 L188.63,211.87 L188.89,212.15 L189.16,212.43 L189.43,212.72 L189.69,213.00 L189.96,213.29 L190.22,213.59 L190.49,213.89 L190.76,214.19 L191.02,214.49 M197.94,223.40 L198.20,223.78 L198.47,224.16 L198.74,224.54 L199.00,224.92 L199.27,225.30 L199.53,225.68 L199.80,226.06 L200.07,226.45 L200.33,226.84 L200.60,227.23 L200.86,227.61 L201.13,228.00 L201.40,228.40 L201.66,228.79 L201.93,229.18 M208.31,238.62 L208.58,239.00 L208.84,239.38 L209.11,239.75 L209.38,240.13 L209.64,240.50 L209.91,240.86 L210.17,241.23 L210.44,241.59 L210.71,241.94 L210.97,242.30 L211.24,242.65 L211.50,242.99 L211.77,243.33 L212.04,243.67 M219.75,250.83 L220.02,250.98 L220.28,251.12 L220.55,251.25 L220.81,251.37 L221.08,251.49 L221.35,251.60 M231.19,250.50 L231.45,250.33 L231.72,250.15 L231.99,249.96 L232.25,249.77 L232.52,249.56 L232.78,249.35 L233.05,249.13 L233.32,248.90 L233.58,248.67 M240.23,240.12 L240.50,239.68 L240.76,239.23 L241.03,238.77 L241.30,238.31 L241.56,237.84 L241.83,237.36 L242.09,236.88 L242.36,236.39 L242.63,235.89 L242.89,235.39 L243.16,234.88 L243.42,234.36 L243.69,233.84 L243.96,233.32 L244.22,232.79 L244.49,232.25 L244.75,231.71 L245.02,231.16 L245.29,230.61 M250.34,219.29 L250.61,218.66 L250.87,218.03 L251.14,217.40 L251.40,216.76 L251.67,216.12 L251.94,215.49 L252.20,214.85 L252.47,214.20 L252.73,213.56 L253.00,212.92 L253.27,212.27 L253.53,211.63 L253.80,210.98 L254.06,210.34 L254.33,209.69 L254.60,209.05 L254.86,208.40 L255.13,207.76 L255.39,207.11 L255.66,206.47 L255.93,205.83 M260.71,194.59 L260.98,193.99 L261.25,193.40 L261.51,192.81 L261.78,192.23 L262.04,191.65 L262.31,191.07 L262.58,190.50 L262.84,189.94 L263.11,189.38 L263.37,188.82 L263.64,188.27 L263.91,187.72 L264.17,187.18 L264.44,186.65 L264.70,186.12 L264.97,185.59 L265.24,185.08 L265.50,184.56 L265.77,184.06 L266.03,183.56 M272.15,174.17 L272.42,173.86 L272.68,173.57 L272.95,173.28 L273.22,173.01 L273.48,172.74 L273.75,172.49 L274.01,172.25 L274.28,172.01 L274.55,171.79 L274.81,171.58 M284.39,172.21 L284.65,172.46 L284.92,172.73 L285.19,173.01 L285.45,173.30 L285.72,173.60 L285.98,173.91 L286.25,174.24 L286.52,174.58 L286.78,174.93 L287.05,175.29 L287.31,175.66 L287.58,176.04 M293.17,186.63 L293.43,187.24 L293.70,187.87 L293.96,188.50 L294.23,189.15 L294.50,189.80 L294.76,190.46 L295.03,191.13 L295.29,191.81 L295.56,192.50 L295.83,193.20 L296.09,193.90 L296.36,194.61 L296.62,195.34 L296.89,196.06 L297.16,196.80 L297.42,197.55 L297.69,198.30 L297.95,199.06 L298.22,199.83 L298.49,200.60 L298.75,201.38 M303.01,214.77 L303.27,215.65 L303.54,216.54 L303.81,217.42 L304.07,218.32 L304.34,219.21 L304.60,220.11 L304.87,221.01 L305.14,221.92 L305.40,222.82 L305.67,223.73 L305.93,224.64 L306.20,225.55 L306.47,226.46 L306.73,227.37 L307.00,228.28 L307.26,229.19 L307.53,230.11 L307.80,231.02 L308.06,231.93 L308.33,232.84 L308.59,233.75 L308.86,234.66 L309.13,235.56 L309.39,236.47 M313.65,250.48 L313.91,251.32 L314.18,252.15 L314.45,252.97 L314.71,253.79 L314.98,254.60 L315.24,255.40 L315.51,256.20 L315.78,256.99 L316.04,257.77 L316.31,258.55 L316.57,259.31 L316.84,260.07 L317.11,260.83 L317.37,261.57 L317.64,262.31 L317.90,263.03 L318.17,263.75 L318.44,264.46 L318.70,265.16 L318.97,265.85 L319.23,266.53 L319.50,267.20 M324.82,278.31 L325.09,278.74 L325.35,279.15 L325.62,279.55 L325.88,279.94 L326.15,280.32 L326.42,280.68 L326.68,281.02 L326.95,281.36 L327.21,281.67 L327.48,281.98 L327.75,282.27 L328.01,282.54 M337.59,281.96 L337.85,281.65 L338.12,281.31 L338.39,280.97 L338.65,280.60 L338.92,280.22 L339.18,279.83 L339.45,279.41 L339.72,278.99 L339.98,278.55 L340.25,278.09 L340.51,277.61 L340.78,277.13 L341.05,276.62 M345.83,265.00 L346.10,264.22 L346.37,263.43 L346.63,262.63 L346.90,261.81 L347.16,260.98 L347.43,260.14 L347.70,259.29 L347.96,258.42 L348.23,257.55 L348.49,256.66 L348.76,255.76 L349.03,254.85 L349.29,253.93 L349.56,253.00 L349.82,252.06 L350.09,251.10 L350.36,250.14 L350.62,249.17 L350.89,248.19 L351.15,247.20 L351.42,246.20 L351.69,245.19 L351.95,244.18 L352.22,243.15 M355.94,228.02 L356.21,226.89 L356.47,225.76 L356.74,224.62 L357.01,223.48 L357.27,222.34 L357.54,221.19 L357.80,220.04 L358.07,218.89 L358.34,217.73 L358.60,216.58 L358.87,215.42 L359.13,214.25 L359.40,213.09 L359.67,211.93 L359.93,210.76 L360.20,209.60 L360.46,208.43 L360.73,207.27 L361.00,206.10 L361.26,204.94 L361.53,203.78 L361.79,202.62 L362.06,201.46 L362.33,200.30 L362.59,199.14 L362.86,197.99 M366.58,182.28 L366.85,181.20 L367.11,180.12 L367.38,179.06 L367.65,178.00 L367.91,176.95 L368.18,175.91 L368.44,174.87 L368.71,173.84 L368.98,172.83 L369.24,171.82 L369.51,170.82 L369.77,169.83 L370.04,168.85 L370.31,167.88 L370.57,166.92 L370.84,165.98 L371.10,165.04 L371.37,164.11 L371.64,163.20 L371.90,162.29 L372.17,161.40 L372.43,160.52 L372.70,159.66 L372.97,158.80 M377.49,146.49 L377.75,145.91 L378.02,145.34 L378.29,144.79 L378.55,144.26 L378.82,143.74 L379.08,143.24 L379.35,142.76 L379.62,142.30 L379.88,141.85 L380.15,141.42 L380.41,141.01 L380.68,140.62 L380.95,140.25 L381.21,139.89 M390.52,139.99 L390.79,140.36 L391.05,140.75 L391.32,141.16 L391.59,141.59 L391.85,142.04 L392.12,142.50 L392.38,142.99 L392.65,143.50 L392.92,144.02 L393.18,144.56 L393.45,145.13 L393.71,145.71 L393.98,146.31 L394.25,146.93 L394.51,147.57 M399.03,161.16 L399.30,162.11 L399.57,163.08 L399.83,164.06 L400.10,165.06 L400.36,166.07 L400.63,167.10 L400.90,168.14 L401.16,169.19 L401.43,170.26 L401.69,171.35 L401.96,172.44 L402.23,173.55 L402.49,174.67 L402.76,175.81 L403.02,176.95 L403.29,178.11 L403.56,179.28 L403.82,180.46 L404.09,181.66 L404.35,182.86 L404.62,184.08 L404.89,185.30 L405.15,186.54 L405.42,187.79 L405.68,189.04 M409.14,206.16 L409.41,207.53 L409.67,208.90 L409.94,210.28 L410.21,211.67 L410.47,213.05 L410.74,214.45 L411.00,215.84 L411.27,217.24 L411.54,218.65 L411.80,220.05 L412.07,221.46 L412.33,222.88 L412.60,224.29 L412.87,225.71 L413.13,227.12 L413.40,228.54 L413.66,229.96 L413.93,231.38 L414.20,232.80 L414.46,234.22 L414.73,235.64 L414.99,237.06 L415.26,238.48 L415.53,239.90 L415.79,241.31 L416.06,242.73 L416.32,244.14 M419.52,260.77 L419.78,262.12 L420.05,263.46 L420.31,264.79 L420.58,266.12 L420.85,267.44 L421.11,268.75 L421.38,270.05 L421.64,271.34 L421.91,272.62 L422.18,273.89 L422.44,275.15 L422.71,276.39 L422.97,277.63 L423.24,278.85 L423.51,280.06 L423.77,281.26 L424.04,282.44 L424.30,283.61 L424.57,284.77 L424.84,285.91 L425.10,287.03 L425.37,288.14 L425.63,289.24 L425.90,290.32 L426.17,291.38 L426.43,292.43 M430.42,305.80 L430.69,306.53 L430.95,307.23 L431.22,307.92 L431.49,308.58 L431.75,309.22 L432.02,309.84 L432.28,310.43 L432.55,311.01 L432.82,311.56 L433.08,312.09 L433.35,312.59 L433.61,313.08 L433.88,313.54 L434.15,313.98 L434.41,314.40 M443.72,314.00 L443.99,313.55 L444.25,313.09 L444.52,312.60 L444.79,312.09 L445.05,311.55 L445.32,311.00 L445.58,310.41 L445.85,309.81 L446.12,309.19 L446.38,308.54 L446.65,307.87 L446.91,307.17 L447.18,306.46 L447.45,305.72 L447.71,304.96 L447.98,304.18 M451.97,289.87 L452.23,288.76 L452.50,287.62 L452.77,286.47 L453.03,285.30 L453.30,284.11 L453.56,282.90 L453.83,281.68 L454.10,280.44 L454.36,279.18 L454.63,277.91 L454.89,276.62 L455.16,275.32 L455.43,274.00 L455.69,272.66 L455.96,271.31 L456.22,269.95 L456.49,268.57 L456.76,267.18 L457.02,265.77 L457.29,264.36 L457.55,262.93 L457.82,261.48 L458.09,260.03 L458.35,258.56 L458.62,257.08 L458.88,255.59 M462.08,236.93 L462.34,235.32 L462.61,233.70 L462.87,232.08 L463.14,230.45 L463.41,228.82 L463.67,227.18 L463.94,225.54 L464.20,223.89 L464.47,222.24 L464.74,220.59 L465.00,218.93 L465.27,217.27 L465.53,215.61 L465.80,213.95 L466.07,212.28 L466.33,210.61 L466.60,208.95 L466.86,207.28 L467.13,205.61 L467.40,203.94 L467.66,202.28 L467.93,200.61 L468.19,198.95 L468.46,197.28 L468.73,195.62 L468.99,193.97 L469.26,192.31 L469.52,190.66 M472.72,171.25 L472.98,169.68 L473.25,168.12 L473.51,166.57 L473.78,165.02 L474.05,163.49 L474.31,161.97 L474.58,160.46 L474.84,158.96 L475.11,157.47 L475.38,155.99 L475.64,154.53 L475.91,153.08 L476.17,151.65 L476.44,150.22 L476.71,148.82 L476.97,147.42 L477.24,146.05 L477.50,144.68 L477.77,143.34 L478.04,142.01 L478.30,140.70 L478.57,139.40 L478.83,138.12 L479.10,136.87 L479.37,135.62 L479.63,134.40 M483.36,119.51 L483.62,118.62 L483.89,117.75 L484.15,116.91 L484.42,116.09 L484.69,115.29 L484.95,114.52 L485.22,113.78 L485.48,113.05 L485.75,112.36 L486.02,111.69 L486.28,111.04 L486.55,110.42 L486.81,109.83 L487.08,109.26 L487.35,108.72 L487.61,108.20 L487.88,107.71 M496.92,107.80 L497.19,108.30 L497.45,108.83 L497.72,109.39 L497.99,109.97 L498.25,110.58 L498.52,111.22 L498.78,111.89 L499.05,112.58 L499.32,113.30 L499.58,114.05 L499.85,114.82 L500.11,115.62 L500.38,116.44 L500.65,117.30 L500.91,118.18 L501.18,119.08 L501.44,120.01 M505.17,135.70 L505.43,137.00 L505.70,138.32 L505.97,139.66 L506.23,141.03 L506.50,142.42 L506.76,143.82 L507.03,145.25 L507.30,146.70 L507.56,148.16 L507.83,149.65 L508.09,151.15 L508.36,152.68 L508.63,154.22 L508.89,155.78 L509.16,157.35 L509.42,158.95 L509.69,160.56 L509.96,162.18 L510.22,163.83 L510.49,165.49 L510.75,167.16 L511.02,168.85 L511.29,170.55 L511.55,172.27 L511.82,174.00 L512.08,175.74 L512.35,177.50 M515.01,195.72 L515.28,197.60 L515.54,199.48 L515.81,201.37 L516.07,203.27 L516.34,205.18 L516.61,207.09 L516.87,209.00 L517.14,210.93 L517.40,212.85 L517.67,214.78 L517.94,216.72 L518.20,218.65 L518.47,220.59 L518.73,222.53 L519.00,224.48 L519.27,226.42 L519.53,228.36 L519.80,230.31 L520.06,232.25 L520.33,234.19 L520.60,236.13 L520.86,238.07 L521.13,240.01 L521.39,241.94 L521.66,243.87 L521.93,245.79 L522.19,247.72 L522.46,249.63 L522.72,251.54 L522.99,253.45 M525.65,272.04 L525.92,273.85 L526.18,275.64 L526.45,277.43 L526.71,279.20 L526.98,280.95 L527.25,282.70 L527.51,284.43 L527.78,286.15 L528.04,287.85 L528.31,289.54 L528.58,291.21 L528.84,292.87 L529.11,294.52 L529.37,296.14 L529.64,297.75 L529.91,299.35 L530.17,300.92 L530.44,302.48 L530.70,304.02 L530.97,305.54 L531.24,307.05 L531.50,308.53 L531.77,310.00 L532.03,311.44 L532.30,312.86 L532.57,314.27 L532.83,315.65 L533.10,317.01 M536.56,332.56 L536.82,333.58 L537.09,334.58 L537.35,335.54 L537.62,336.49 L537.89,337.40 L538.15,338.29 L538.42,339.14 L538.68,339.98 L538.95,340.78 L539.22,341.55 L539.48,342.30 L539.75,343.02 L540.01,343.70 L540.28,344.36 L540.55,344.99 L540.81,345.59 L541.08,346.16 L541.34,346.70 M550.12,346.24 L550.39,345.67 L550.65,345.06 L550.92,344.43 L551.19,343.76 L551.45,343.07 L551.72,342.34 L551.98,341.59 L552.25,340.80 L552.52,339.98 L552.78,339.14 L553.05,338.26 L553.31,337.35 L553.58,336.42 L553.85,335.45 L554.11,334.46 L554.38,333.44 L554.64,332.39 M558.10,316.22 L558.37,314.80 L558.63,313.35 L558.90,311.87 L559.17,310.37 L559.43,308.85 L559.70,307.31 L559.96,305.74 L560.23,304.15 L560.50,302.54 L560.76,300.91 L561.03,299.25 L561.29,297.58 L561.56,295.88 L561.83,294.17 L562.09,292.43 L562.36,290.68 L562.62,288.91 L562.89,287.11 L563.16,285.30 L563.42,283.48 L563.69,281.63 L563.95,279.77 L564.22,277.89 L564.49,276.00 L564.75,274.09 L565.02,272.16 L565.28,270.22 L565.55,268.26 M568.21,247.97 L568.48,245.88 L568.74,243.78 L569.01,241.67 L569.27,239.55 L569.54,237.42 L569.81,235.29 L570.07,233.15 L570.34,231.00 L570.60,228.84 L570.87,226.69 L571.14,224.52 L571.40,222.35 L571.67,220.18 L571.93,218.01 L572.20,215.83 L572.47,213.65 L572.73,211.47 L573.00,209.29 L573.26,207.11 L573.53,204.92 L573.80,202.74 L574.06,200.56 L574.33,198.38 L574.59,196.21 L574.86,194.03 L575.13,191.86 L575.39,189.69 L575.66,187.53 L575.92,185.37 L576.19,183.22 L576.46,181.07 M578.85,162.08 L579.12,160.02 L579.38,157.97 L579.65,155.93 L579.91,153.91 L580.18,151.89 L580.45,149.90 L580.71,147.91 L580.98,145.94 L581.24,143.98 L581.51,142.04 L581.78,140.12 L582.04,138.21 L582.31,136.32 L582.57,134.45 L582.84,132.59 L583.11,130.76 L583.37,128.94 L583.64,127.14 L583.90,125.36 L584.17,123.60 L584.44,121.87 L584.70,120.15 L584.97,118.46 L585.23,116.79 L585.50,115.14 L585.77,113.52 L586.03,111.92 L586.30,110.35 L586.56,108.80 M589.49,93.55 L589.76,92.34 L590.02,91.16 L590.29,90.01 L590.55,88.88 L590.82,87.79 L591.09,86.73 L591.35,85.71 L591.62,84.71 L591.88,83.75 L592.15,82.82 L592.42,81.92 L592.68,81.05 L592.95,80.21 L593.21,79.41 L593.48,78.65 L593.75,77.91 L594.01,77.21 L594.28,76.54 L594.54,75.91 M603.32,75.59 L603.59,76.20 L603.85,76.86 L604.12,77.55 L604.39,78.27 L604.65,79.03 L604.92,79.83 L605.18,80.66 L605.45,81.52 L605.72,82.42 L605.98,83.35 L606.25,84.32 L606.51,85.32 L606.78,86.36 L607.05,87.43 L607.31,88.53 L607.58,89.66 L607.84,90.83 L608.11,92.03 M611.04,107.38 L611.30,108.96 L611.57,110.56 L611.83,112.20 L612.10,113.86 L612.37,115.55 L612.63,117.27 L612.90,119.02 L613.16,120.79 L613.43,122.58 L613.70,124.40 L613.96,126.25 L614.23,128.12 L614.49,130.01 L614.76,131.93 L615.03,133.87 L615.29,135.83 L615.56,137.81 L615.82,139.82 L616.09,141.84 L616.36,143.89 L616.62,145.95 L616.89,148.04 L617.15,150.14 L617.42,152.27 L617.69,154.41 L617.95,156.56 L618.22,158.74 L618.48,160.93 L618.75,163.14 L619.02,165.36 M621.14,183.66 L621.41,186.00 L621.68,188.35 L621.94,190.72 L622.21,193.09 L622.47,195.47 L622.74,197.87 L623.01,200.27 L623.27,202.67 L623.54,205.09 L623.80,207.51 L624.07,209.93 L624.34,212.36 L624.60,214.80 L624.87,217.24 L625.13,219.68 L625.40,222.13 L625.67,224.58 L625.93,227.03 L626.20,229.49 L626.46,231.94 L626.73,234.40 L627.00,236.86 L627.26,239.31 L627.53,241.77 L627.79,244.22 L628.06,246.67 L628.33,249.12 L628.59,251.56 L628.86,254.01 L629.12,256.44 L629.39,258.88 L629.66,261.30 M631.78,280.47 L632.05,282.82 L632.32,285.16 L632.58,287.49 L632.85,289.80 L633.11,292.10 L633.38,294.38 L633.65,296.65 L633.91,298.90 L634.18,301.13 L634.44,303.34 L634.71,305.53 L634.98,307.70 L635.24,309.85 L635.51,311.98 L635.77,314.08 L636.04,316.16 L636.31,318.22 L636.57,320.24 L636.84,322.24 L637.10,324.22 L637.37,326.16 L637.64,328.08 L637.90,329.96 L638.17,331.81 L638.43,333.63 L638.70,335.42 L638.97,337.18 L639.23,338.90 L639.50,340.58 L639.76,342.23 M642.96,358.92 L643.22,360.05 L643.49,361.16 L643.75,362.22 L644.02,363.26 L644.29,364.26 L644.55,365.23 L644.82,366.18 L645.08,367.09 L645.35,367.98 L645.62,368.84 L645.88,369.67 L646.15,370.48 L646.41,371.27 L646.68,372.03 L646.95,372.77 L647.21,373.50 L647.48,374.20 L647.74,374.89 L648.01,375.55 L648.28,376.21 L648.54,376.84 L648.81,377.47 L649.07,378.08" stroke="#1A6FDF" stroke-width="1.2" stroke-opacity="0.75" fill="none" stroke-linejoin="round"/>
<path d="M120.00,212.33 L126.40,222.93 L113.60,222.93 Z" fill="#1A6FDF"/><path d="M130.64,210.83 L137.04,221.43 L124.24,221.43 Z" fill="#1A6FDF"/><path d="M141.28,208.43 L147.68,219.03 L134.88,219.03 Z" fill="#1A6FDF"/><path d="M151.92,203.03 L158.32,213.63 L145.52,213.63 Z" fill="#1A6FDF"/><path d="M162.56,197.73 L168.96,208.33 L156.16,208.33 Z" fill="#1A6FDF"/><path d="M173.20,195.63 L179.60,206.23 L166.80,206.23 Z" fill="#1A6FDF"/><path d="M183.84,200.44 L190.24,211.04 L177.44,211.04 Z" fill="#1A6FDF"/><path d="M194.48,211.65 L200.88,222.25 L188.08,222.25 Z" fill="#1A6FDF"/><path d="M205.12,226.86 L211.52,237.46 L198.72,237.46 Z" fill="#1A6FDF"/><path d="M215.76,240.75 L222.16,251.35 L209.36,251.35 Z" fill="#1A6FDF"/><path d="M226.40,245.23 L232.80,255.83 L220.00,255.83 Z" fill="#1A6FDF"/><path d="M237.04,237.79 L243.44,248.39 L230.64,248.39 Z" fill="#1A6FDF"/><path d="M247.68,218.36 L254.08,228.96 L241.28,228.96 Z" fill="#1A6FDF"/><path d="M258.32,193.04 L264.72,203.64 L251.92,203.64 Z" fill="#1A6FDF"/><path d="M268.96,171.47 L275.36,182.07 L262.56,182.07 Z" fill="#1A6FDF"/><path d="M279.60,162.74 L286.00,173.34 L273.20,173.34 Z" fill="#1A6FDF"/><path d="M290.24,173.43 L296.64,184.03 L283.84,184.03 Z" fill="#1A6FDF"/><path d="M300.88,200.82 L307.28,211.42 L294.48,211.42 Z" fill="#1A6FDF"/><path d="M311.52,236.54 L317.92,247.14 L305.12,247.14 Z" fill="#1A6FDF"/><path d="M322.16,266.28 L328.56,276.88 L315.76,276.88 Z" fill="#1A6FDF"/><path d="M332.80,277.83 L339.20,288.43 L326.40,288.43 Z" fill="#1A6FDF"/><path d="M343.44,264.34 L349.84,274.94 L337.04,274.94 Z" fill="#1A6FDF"/><path d="M354.08,228.69 L360.48,239.29 L347.68,239.29 Z" fill="#1A6FDF"/><path d="M364.72,182.95 L371.12,193.55 L358.32,193.55 Z" fill="#1A6FDF"/><path d="M375.36,144.67 L381.76,155.27 L368.96,155.27 Z" fill="#1A6FDF"/><path d="M386.00,129.74 L392.40,140.34 L379.60,140.34 Z" fill="#1A6FDF"/><path d="M396.64,146.26 L403.04,156.86 L390.24,156.86 Z" fill="#1A6FDF"/><path d="M407.28,189.71 L413.68,200.31 L400.88,200.31 Z" fill="#1A6FDF"/><path d="M417.92,245.47 L424.32,256.07 L411.52,256.07 Z" fill="#1A6FDF"/><path d="M428.56,293.06 L434.96,303.66 L422.16,303.66 Z" fill="#1A6FDF"/><path d="M439.20,310.82 L445.60,321.42 L432.80,321.42 Z" fill="#1A6FDF"/><path d="M449.84,291.02 L456.24,301.62 L443.44,301.62 Z" fill="#1A6FDF"/><path d="M460.48,239.35 L466.88,249.95 L454.08,249.95 Z" fill="#1A6FDF"/><path d="M471.12,173.78 L477.52,184.38 L464.72,184.38 Z" fill="#1A6FDF"/><path d="M481.76,118.30 L488.16,128.90 L475.36,128.90 Z" fill="#1A6FDF"/><path d="M492.40,96.54 L498.80,107.14 L486.00,107.14 Z" fill="#1A6FDF"/><path d="M503.04,119.07 L509.44,129.67 L496.64,129.67 Z" fill="#1A6FDF"/><path d="M513.68,179.41 L520.08,190.01 L507.28,190.01 Z" fill="#1A6FDF"/><path d="M524.32,255.79 L530.72,266.39 L517.92,266.39 Z" fill="#1A6FDF"/><path d="M534.96,318.83 L541.36,329.43 L528.56,329.43 Z" fill="#1A6FDF"/><path d="M545.60,343.94 L552.00,354.54 L539.20,354.54 Z" fill="#1A6FDF"/><path d="M556.24,318.43 L562.64,329.03 L549.84,329.03 Z" fill="#1A6FDF"/><path d="M566.88,251.21 L573.28,261.81 L560.48,261.81 Z" fill="#1A6FDF"/><path d="M577.52,165.48 L583.92,176.08 L571.12,176.08 Z" fill="#1A6FDF"/><path d="M588.16,92.99 L594.56,103.59 L581.76,103.59 Z" fill="#1A6FDF"/><path d="M598.80,63.60 L605.20,74.20 L592.40,74.20 Z" fill="#1A6FDF"/><path d="M609.44,91.47 L615.84,102.07 L603.04,102.07 Z" fill="#1A6FDF"/><path d="M620.08,167.34 L626.48,177.94 L613.68,177.94 Z" fill="#1A6FDF"/><path d="M630.72,263.88 L637.12,274.48 L624.32,274.48 Z" fill="#1A6FDF"/><path d="M641.36,344.24 L647.76,354.84 L634.96,354.84 Z" fill="#1A6FDF"/><path d="M652.00,377.20 L658.40,387.80 L645.60,387.80 Z" fill="#1A6FDF"/>
<path d="M124.79,218.74 L125.05,218.70 L125.32,218.66 L125.59,218.62 L125.85,218.59 M135.43,217.11 L135.69,217.06 L135.96,217.00 L136.23,216.94 L136.49,216.89 M145.80,213.46 L146.07,213.33 L146.33,213.19 L146.60,213.05 L146.87,212.91 L147.13,212.76 L147.40,212.62 M156.44,207.65 L156.71,207.52 L156.97,207.38 L157.24,207.25 L157.51,207.11 L157.77,206.98 L158.04,206.85 M167.35,203.20 L167.61,203.14 L167.88,203.08 L168.15,203.02 M177.99,203.96 L178.25,204.07 L178.52,204.19 L178.79,204.31 L179.05,204.44 L179.32,204.58 L179.58,204.71 M187.83,211.05 L188.10,211.32 L188.36,211.59 L188.63,211.86 L188.89,212.14 L189.16,212.42 L189.43,212.70 L189.69,212.99 L189.96,213.28 L190.22,213.57 L190.49,213.87 L190.76,214.17 L191.02,214.47 M197.94,223.38 L198.20,223.76 L198.47,224.13 L198.74,224.51 L199.00,224.89 L199.27,225.27 L199.53,225.66 L199.80,226.04 L200.07,226.43 L200.33,226.81 L200.60,227.20 L200.86,227.59 L201.13,227.98 L201.40,228.37 L201.66,228.76 L201.93,229.15 M208.31,238.59 L208.58,238.97 L208.84,239.35 L209.11,239.73 L209.38,240.10 L209.64,240.47 L209.91,240.84 L210.17,241.20 L210.44,241.56 L210.71,241.92 L210.97,242.27 L211.24,242.62 L211.50,242.97 L211.77,243.31 L212.04,243.64 M219.75,250.82 L220.02,250.97 L220.28,251.10 L220.55,251.24 L220.81,251.36 L221.08,251.48 L221.35,251.59 M231.19,250.52 L231.45,250.35 L231.72,250.17 L231.99,249.99 L232.25,249.79 L232.52,249.59 L232.78,249.38 L233.05,249.16 L233.32,248.93 L233.58,248.70 M240.23,240.18 L240.50,239.73 L240.76,239.28 L241.03,238.83 L241.30,238.36 L241.56,237.89 L241.83,237.42 L242.09,236.93 L242.36,236.45 L242.63,235.95 L242.89,235.45 L243.16,234.94 L243.42,234.43 L243.69,233.91 L243.96,233.38 L244.22,232.85 L244.49,232.32 L244.75,231.78 L245.02,231.23 L245.29,230.68 M250.34,219.37 L250.61,218.75 L250.87,218.11 L251.14,217.48 L251.40,216.85 L251.67,216.21 L251.94,215.57 L252.20,214.93 L252.47,214.29 L252.73,213.65 L253.00,213.01 L253.27,212.36 L253.53,211.72 L253.80,211.07 L254.06,210.43 L254.33,209.78 L254.60,209.14 L254.86,208.49 L255.13,207.85 L255.39,207.20 L255.66,206.56 L255.93,205.92 M260.71,194.68 L260.98,194.08 L261.25,193.49 L261.51,192.90 L261.78,192.32 L262.04,191.74 L262.31,191.16 L262.58,190.59 L262.84,190.02 L263.11,189.46 L263.37,188.90 L263.64,188.35 L263.91,187.81 L264.17,187.26 L264.44,186.73 L264.70,186.20 L264.97,185.67 L265.24,185.16 L265.50,184.64 L265.77,184.14 L266.03,183.64 M272.15,174.21 L272.42,173.91 L272.68,173.61 L272.95,173.33 L273.22,173.05 L273.48,172.78 L273.75,172.53 L274.01,172.28 L274.28,172.05 L274.55,171.83 L274.81,171.61 M284.39,172.16 L284.65,172.41 L284.92,172.68 L285.19,172.95 L285.45,173.24 L285.72,173.54 L285.98,173.85 L286.25,174.18 L286.52,174.51 L286.78,174.86 L287.05,175.22 L287.31,175.59 L287.58,175.97 M293.17,186.50 L293.43,187.12 L293.70,187.74 L293.96,188.37 L294.23,189.01 L294.50,189.66 L294.76,190.32 L295.03,190.99 L295.29,191.67 L295.56,192.35 L295.83,193.05 L296.09,193.75 L296.36,194.46 L296.62,195.18 L296.89,195.91 L297.16,196.64 L297.42,197.39 L297.69,198.14 L297.95,198.89 L298.22,199.66 L298.49,200.43 L298.75,201.21 M303.01,214.57 L303.27,215.45 L303.54,216.34 L303.81,217.23 L304.07,218.12 L304.34,219.01 L304.60,219.91 L304.87,220.81 L305.14,221.71 L305.40,222.62 L305.67,223.53 L305.93,224.43 L306.20,225.34 L306.47,226.25 L306.73,227.16 L307.00,228.08 L307.26,228.99 L307.53,229.90 L307.80,230.81 L308.06,231.72 L308.33,232.63 L308.59,233.54 L308.86,234.45 L309.13,235.36 L309.39,236.26 M313.65,250.28 L313.91,251.12 L314.18,251.95 L314.45,252.77 L314.71,253.59 L314.98,254.40 L315.24,255.21 L315.51,256.01 L315.78,256.80 L316.04,257.58 L316.31,258.36 L316.57,259.13 L316.84,259.89 L317.11,260.64 L317.37,261.39 L317.64,262.13 L317.90,262.85 L318.17,263.57 L318.44,264.28 L318.70,264.99 L318.97,265.68 L319.23,266.36 L319.50,267.04 M324.82,278.20 L325.09,278.63 L325.35,279.05 L325.62,279.45 L325.88,279.84 L326.15,280.22 L326.42,280.59 L326.68,280.94 L326.95,281.27 L327.21,281.59 L327.48,281.90 L327.75,282.20 L328.01,282.48 M337.59,282.05 L337.85,281.74 L338.12,281.41 L338.39,281.07 L338.65,280.71 L338.92,280.34 L339.18,279.95 L339.45,279.54 L339.72,279.12 L339.98,278.68 L340.25,278.23 L340.51,277.76 L340.78,277.27 L341.05,276.77 M345.83,265.24 L346.10,264.47 L346.37,263.68 L346.63,262.88 L346.90,262.06 L347.16,261.24 L347.43,260.40 L347.70,259.55 L347.96,258.69 L348.23,257.82 L348.49,256.93 L348.76,256.04 L349.03,255.13 L349.29,254.22 L349.56,253.29 L349.82,252.35 L350.09,251.40 L350.36,250.45 L350.62,249.48 L350.89,248.50 L351.15,247.52 L351.42,246.52 L351.69,245.52 L351.95,244.50 L352.22,243.48 M355.94,228.38 L356.21,227.26 L356.47,226.13 L356.74,224.99 L357.01,223.85 L357.27,222.71 L357.54,221.57 L357.80,220.42 L358.07,219.27 L358.34,218.11 L358.60,216.96 L358.87,215.80 L359.13,214.64 L359.40,213.48 L359.67,212.31 L359.93,211.15 L360.20,209.99 L360.46,208.82 L360.73,207.66 L361.00,206.49 L361.26,205.33 L361.53,204.17 L361.79,203.01 L362.06,201.85 L362.33,200.69 L362.59,199.53 L362.86,198.38 M366.58,182.65 L366.85,181.57 L367.11,180.50 L367.38,179.43 L367.65,178.37 L367.91,177.31 L368.18,176.27 L368.44,175.23 L368.71,174.20 L368.98,173.18 L369.24,172.17 L369.51,171.17 L369.77,170.18 L370.04,169.19 L370.31,168.22 L370.57,167.26 L370.84,166.31 L371.10,165.37 L371.37,164.44 L371.64,163.52 L371.90,162.61 L372.17,161.72 L372.43,160.84 L372.70,159.96 L372.97,159.11 M377.49,146.71 L377.75,146.12 L378.02,145.54 L378.29,144.99 L378.55,144.45 L378.82,143.93 L379.08,143.42 L379.35,142.93 L379.62,142.46 L379.88,142.01 L380.15,141.58 L380.41,141.16 L380.68,140.76 L380.95,140.38 L381.21,140.02 M390.52,139.85 L390.79,140.21 L391.05,140.59 L391.32,140.99 L391.59,141.41 L391.85,141.85 L392.12,142.31 L392.38,142.79 L392.65,143.29 L392.92,143.80 L393.18,144.34 L393.45,144.89 L393.71,145.47 L393.98,146.06 L394.25,146.67 L394.51,147.30 M399.03,160.76 L399.30,161.71 L399.57,162.67 L399.83,163.65 L400.10,164.64 L400.36,165.64 L400.63,166.66 L400.90,167.70 L401.16,168.74 L401.43,169.81 L401.69,170.88 L401.96,171.97 L402.23,173.08 L402.49,174.19 L402.76,175.32 L403.02,176.46 L403.29,177.61 L403.56,178.78 L403.82,179.95 L404.09,181.14 L404.35,182.34 L404.62,183.55 L404.89,184.77 L405.15,186.00 L405.42,187.24 L405.68,188.49 M409.14,205.56 L409.41,206.92 L409.67,208.29 L409.94,209.67 L410.21,211.05 L410.47,212.44 L410.74,213.83 L411.00,215.22 L411.27,216.62 L411.54,218.02 L411.80,219.42 L412.07,220.83 L412.33,222.24 L412.60,223.65 L412.87,225.07 L413.13,226.48 L413.40,227.90 L413.66,229.32 L413.93,230.74 L414.20,232.16 L414.46,233.58 L414.73,235.00 L414.99,236.42 L415.26,237.84 L415.53,239.25 L415.79,240.67 L416.06,242.08 L416.32,243.49 M419.52,260.15 L419.78,261.50 L420.05,262.84 L420.31,264.18 L420.58,265.51 L420.85,266.83 L421.11,268.15 L421.38,269.45 L421.64,270.75 L421.91,272.03 L422.18,273.30 L422.44,274.57 L422.71,275.82 L422.97,277.06 L423.24,278.29 L423.51,279.50 L423.77,280.70 L424.04,281.89 L424.30,283.07 L424.57,284.23 L424.84,285.38 L425.10,286.51 L425.37,287.63 L425.63,288.73 L425.90,289.82 L426.17,290.89 L426.43,291.94 M430.42,305.44 L430.69,306.18 L430.95,306.89 L431.22,307.58 L431.49,308.26 L431.75,308.91 L432.02,309.53 L432.28,310.14 L432.55,310.73 L432.82,311.29 L433.08,311.83 L433.35,312.35 L433.61,312.84 L433.88,313.32 L434.15,313.77 L434.41,314.19 L434.68,314.60 M443.72,314.22 L443.99,313.79 L444.25,313.34 L444.52,312.86 L444.79,312.37 L445.05,311.84 L445.32,311.30 L445.58,310.73 L445.85,310.14 L446.12,309.53 L446.38,308.89 L446.65,308.23 L446.91,307.55 L447.18,306.85 L447.45,306.12 L447.71,305.37 L447.98,304.60 M451.97,290.47 L452.23,289.37 L452.50,288.24 L452.77,287.10 L453.03,285.94 L453.30,284.76 L453.56,283.57 L453.83,282.35 L454.10,281.12 L454.36,279.88 L454.63,278.61 L454.89,277.33 L455.16,276.04 L455.43,274.73 L455.69,273.40 L455.96,272.06 L456.22,270.71 L456.49,269.34 L456.76,267.96 L457.02,266.56 L457.29,265.15 L457.55,263.73 L457.82,262.29 L458.09,260.84 L458.35,259.38 L458.62,257.91 L458.88,256.43 M462.08,237.84 L462.34,236.23 L462.61,234.62 L462.87,233.01 L463.14,231.38 L463.41,229.75 L463.67,228.12 L463.94,226.48 L464.20,224.84 L464.47,223.19 L464.74,221.54 L465.00,219.89 L465.27,218.23 L465.53,216.57 L465.80,214.91 L466.07,213.24 L466.33,211.58 L466.60,209.91 L466.86,208.25 L467.13,206.58 L467.40,204.91 L467.66,203.25 L467.93,201.58 L468.19,199.92 L468.46,198.25 L468.73,196.59 L468.99,194.93 L469.26,193.28 L469.52,191.63 M472.72,172.18 L472.98,170.61 L473.25,169.04 L473.51,167.48 L473.78,165.93 L474.05,164.40 L474.31,162.87 L474.58,161.35 L474.84,159.85 L475.11,158.35 L475.38,156.87 L475.64,155.40 L475.91,153.94 L476.17,152.50 L476.44,151.07 L476.71,149.65 L476.97,148.25 L477.24,146.87 L477.50,145.50 L477.77,144.14 L478.04,142.80 L478.30,141.48 L478.57,140.17 L478.83,138.89 L479.10,137.62 L479.37,136.37 L479.63,135.13 M483.36,120.07 L483.62,119.17 L483.89,118.28 L484.15,117.43 L484.42,116.59 L484.69,115.78 L484.95,114.99 L485.22,114.23 L485.48,113.50 L485.75,112.78 L486.02,112.10 L486.28,111.44 L486.55,110.80 L486.81,110.19 L487.08,109.61 L487.35,109.05 L487.61,108.51 L487.88,108.01 M496.92,107.48 L497.19,107.96 L497.45,108.47 L497.72,109.01 L497.99,109.58 L498.25,110.17 L498.52,110.79 L498.78,111.44 L499.05,112.11 L499.32,112.81 L499.58,113.54 L499.85,114.29 L500.11,115.08 L500.38,115.88 L500.65,116.72 L500.91,117.58 L501.18,118.47 L501.44,119.38 M505.17,134.83 L505.43,136.11 L505.70,137.42 L505.97,138.75 L506.23,140.10 L506.50,141.47 L506.76,142.86 L507.03,144.27 L507.30,145.70 L507.56,147.16 L507.83,148.63 L508.09,150.12 L508.36,151.63 L508.63,153.15 L508.89,154.70 L509.16,156.26 L509.42,157.84 L509.69,159.44 L509.96,161.06 L510.22,162.69 L510.49,164.33 L510.75,166.00 L511.02,167.67 L511.29,169.36 L511.55,171.07 L511.82,172.79 L512.08,174.53 L512.35,176.27 M515.01,194.41 L515.28,196.28 L515.54,198.15 L515.81,200.04 L516.07,201.93 L516.34,203.83 L516.61,205.74 L516.87,207.65 L517.14,209.57 L517.40,211.49 L517.67,213.42 L517.94,215.35 L518.20,217.28 L518.47,219.22 L518.73,221.15 L519.00,223.09 L519.27,225.04 L519.53,226.98 L519.80,228.92 L520.06,230.86 L520.33,232.80 L520.60,234.74 L520.86,236.68 L521.13,238.62 L521.39,240.55 L521.66,242.48 L521.93,244.41 L522.19,246.33 L522.46,248.25 L522.72,250.16 L522.99,252.07 M525.65,270.71 L525.92,272.53 L526.18,274.33 L526.45,276.12 L526.71,277.90 L526.98,279.66 L527.25,281.42 L527.51,283.16 L527.78,284.88 L528.04,286.60 L528.31,288.29 L528.58,289.98 L528.84,291.65 L529.11,293.30 L529.37,294.94 L529.64,296.56 L529.91,298.17 L530.17,299.75 L530.44,301.33 L530.70,302.88 L530.97,304.41 L531.24,305.93 L531.50,307.43 L531.77,308.91 L532.03,310.37 L532.30,311.80 L532.57,313.22 L532.83,314.62 L533.10,316.00 M536.56,331.78 L536.82,332.82 L537.09,333.83 L537.35,334.82 L537.62,335.78 L537.89,336.72 L538.15,337.62 L538.42,338.50 L538.68,339.36 L538.95,340.18 L539.22,340.98 L539.48,341.74 L539.75,342.48 L540.01,343.19 L540.28,343.87 L540.55,344.53 L540.81,345.15 L541.08,345.74 L541.34,346.30 M550.12,346.67 L550.39,346.13 L550.65,345.55 L550.92,344.94 L551.19,344.30 L551.45,343.63 L551.72,342.93 L551.98,342.20 L552.25,341.44 L552.52,340.65 L552.78,339.82 L553.05,338.97 L553.31,338.09 L553.58,337.18 L553.85,336.24 L554.11,335.27 L554.38,334.28 L554.64,333.25 M558.10,317.39 L558.37,315.98 L558.63,314.55 L558.90,313.10 L559.17,311.62 L559.43,310.12 L559.70,308.59 L559.96,307.05 L560.23,305.48 L560.50,303.88 L560.76,302.27 L561.03,300.64 L561.29,298.98 L561.56,297.30 L561.83,295.61 L562.09,293.89 L562.36,292.15 L562.62,290.40 L562.89,288.62 L563.16,286.83 L563.42,285.02 L563.69,283.19 L563.95,281.35 L564.22,279.48 L564.49,277.60 L564.75,275.71 L565.02,273.80 L565.28,271.87 L565.55,269.93 M568.21,249.75 L568.48,247.67 L568.74,245.58 L569.01,243.47 L569.27,241.36 L569.54,239.24 L569.81,237.12 L570.07,234.98 L570.34,232.84 L570.60,230.69 L570.87,228.54 L571.14,226.38 L571.40,224.22 L571.67,222.05 L571.93,219.88 L572.20,217.71 L572.47,215.53 L572.73,213.36 L573.00,211.18 L573.26,209.00 L573.53,206.81 L573.80,204.63 L574.06,202.45 L574.33,200.27 L574.59,198.10 L574.86,195.92 L575.13,193.75 L575.39,191.58 L575.66,189.41 L575.92,187.25 L576.19,185.09 L576.46,182.94 M578.85,163.90 L579.12,161.83 L579.38,159.77 L579.65,157.73 L579.91,155.69 L580.18,153.67 L580.45,151.66 L580.71,149.66 L580.98,147.68 L581.24,145.71 L581.51,143.76 L581.78,141.82 L582.04,139.90 L582.31,137.99 L582.57,136.10 L582.84,134.23 L583.11,132.38 L583.37,130.55 L583.64,128.73 L583.90,126.94 L584.17,125.16 L584.44,123.41 L584.70,121.67 L584.97,119.96 L585.23,118.27 L585.50,116.61 L585.77,114.96 L586.03,113.34 L586.30,111.75 L586.56,110.18 M589.49,94.67 L589.76,93.43 L590.02,92.22 L590.29,91.04 L590.55,89.89 L590.82,88.78 L591.09,87.69 L591.35,86.63 L591.62,85.61 L591.88,84.62 L592.15,83.65 L592.42,82.73 L592.68,81.83 L592.95,80.96 L593.21,80.13 L593.48,79.33 L593.75,78.57 L594.01,77.84 L594.28,77.14 L594.54,76.48 L594.81,75.85 M603.32,75.02 L603.59,75.61 L603.85,76.23 L604.12,76.88 L604.39,77.57 L604.65,78.30 L604.92,79.06 L605.18,79.85 L605.45,80.68 L605.72,81.55 L605.98,82.45 L606.25,83.38 L606.51,84.35 L606.78,85.35 L607.05,86.38 L607.31,87.45 L607.58,88.56 L607.84,89.69 L608.11,90.86 M611.04,105.86 L611.30,107.41 L611.57,108.99 L611.83,110.60 L612.10,112.23 L612.37,113.89 L612.63,115.58 L612.90,117.30 L613.16,119.04 L613.43,120.81 L613.70,122.61 L613.96,124.43 L614.23,126.27 L614.49,128.14 L614.76,130.03 L615.03,131.95 L615.29,133.88 L615.56,135.84 L615.82,137.82 L616.09,139.83 L616.36,141.85 L616.62,143.89 L616.89,145.96 L617.15,148.04 L617.42,150.14 L617.69,152.26 L617.95,154.40 L618.22,156.56 L618.48,158.73 L618.75,160.92 L619.02,163.12 M621.14,181.30 L621.41,183.63 L621.68,185.97 L621.94,188.32 L622.21,190.68 L622.47,193.05 L622.74,195.44 L623.01,197.83 L623.27,200.22 L623.54,202.63 L623.80,205.04 L624.07,207.46 L624.34,209.88 L624.60,212.31 L624.87,214.75 L625.13,217.19 L625.40,219.63 L625.67,222.08 L625.93,224.53 L626.20,226.98 L626.46,229.43 L626.73,231.89 L627.00,234.34 L627.26,236.80 L627.53,239.26 L627.79,241.71 L628.06,244.16 L628.33,246.61 L628.59,249.06 L628.86,251.51 L629.12,253.95 L629.39,256.39 L629.66,258.82 M631.78,278.06 L632.05,280.42 L632.32,282.78 L632.58,285.12 L632.85,287.45 L633.11,289.76 L633.38,292.06 L633.65,294.34 L633.91,296.61 L634.18,298.86 L634.44,301.09 L634.71,303.30 L634.98,305.49 L635.24,307.66 L635.51,309.80 L635.77,311.93 L636.04,314.03 L636.31,316.10 L636.57,318.15 L636.84,320.18 L637.10,322.17 L637.37,324.14 L637.64,326.08 L637.90,327.99 L638.17,329.87 L638.43,331.72 L638.70,333.53 L638.97,335.31 L639.23,337.06 L639.50,338.77 L639.76,340.45 M642.69,356.30 L642.96,357.51 L643.22,358.68 L643.49,359.81 L643.75,360.91 L644.02,361.98 L644.29,363.02 L644.55,364.03 L644.82,365.00 L645.08,365.95 L645.35,366.87 L645.62,367.77 L645.88,368.64 L646.15,369.48 L646.41,370.31 L646.68,371.11 L646.95,371.89 L647.21,372.65 L647.48,373.39 L647.74,374.11 L648.01,374.82 L648.28,375.51 L648.54,376.18 L648.81,376.84 L649.07,377.49" stroke="#2FAB63" stroke-width="1.2" stroke-opacity="0.75" fill="none" stroke-linejoin="round"/>
<rect x="115.30" y="214.70" width="9.4" height="9.4" fill="#2FAB63"/><rect x="125.94" y="213.20" width="9.4" height="9.4" fill="#2FAB63"/><rect x="136.58" y="210.80" width="9.4" height="9.4" fill="#2FAB63"/><rect x="147.22" y="205.40" width="9.4" height="9.4" fill="#2FAB63"/><rect x="157.86" y="200.10" width="9.4" height="9.4" fill="#2FAB63"/><rect x="168.50" y="198.00" width="9.4" height="9.4" fill="#2FAB63"/><rect x="179.14" y="202.80" width="9.4" height="9.4" fill="#2FAB63"/><rect x="189.78" y="214.00" width="9.4" height="9.4" fill="#2FAB63"/><rect x="200.42" y="229.20" width="9.4" height="9.4" fill="#2FAB63"/><rect x="211.06" y="243.10" width="9.4" height="9.4" fill="#2FAB63"/><rect x="221.70" y="247.60" width="9.4" height="9.4" fill="#2FAB63"/><rect x="232.34" y="240.20" width="9.4" height="9.4" fill="#2FAB63"/><rect x="242.98" y="220.80" width="9.4" height="9.4" fill="#2FAB63"/><rect x="253.62" y="195.50" width="9.4" height="9.4" fill="#2FAB63"/><rect x="264.26" y="173.90" width="9.4" height="9.4" fill="#2FAB63"/><rect x="274.90" y="165.10" width="9.4" height="9.4" fill="#2FAB63"/><rect x="285.54" y="175.70" width="9.4" height="9.4" fill="#2FAB63"/><rect x="296.18" y="203.00" width="9.4" height="9.4" fill="#2FAB63"/><rect x="306.82" y="238.70" width="9.4" height="9.4" fill="#2FAB63"/><rect x="317.46" y="268.50" width="9.4" height="9.4" fill="#2FAB63"/><rect x="328.10" y="280.20" width="9.4" height="9.4" fill="#2FAB63"/><rect x="338.74" y="266.90" width="9.4" height="9.4" fill="#2FAB63"/><rect x="349.38" y="231.40" width="9.4" height="9.4" fill="#2FAB63"/><rect x="360.02" y="185.70" width="9.4" height="9.4" fill="#2FAB63"/><rect x="370.66" y="147.30" width="9.4" height="9.4" fill="#2FAB63"/><rect x="381.30" y="132.10" width="9.4" height="9.4" fill="#2FAB63"/><rect x="391.94" y="148.30" width="9.4" height="9.4" fill="#2FAB63"/><rect x="402.58" y="191.50" width="9.4" height="9.4" fill="#2FAB63"/><rect x="413.22" y="247.20" width="9.4" height="9.4" fill="#2FAB63"/><rect x="423.86" y="295.00" width="9.4" height="9.4" fill="#2FAB63"/><rect x="434.50" y="313.20" width="9.4" height="9.4" fill="#2FAB63"/><rect x="445.14" y="293.90" width="9.4" height="9.4" fill="#2FAB63"/><rect x="455.78" y="242.60" width="9.4" height="9.4" fill="#2FAB63"/><rect x="466.42" y="177.10" width="9.4" height="9.4" fill="#2FAB63"/><rect x="477.06" y="121.30" width="9.4" height="9.4" fill="#2FAB63"/><rect x="487.70" y="98.90" width="9.4" height="9.4" fill="#2FAB63"/><rect x="498.34" y="120.70" width="9.4" height="9.4" fill="#2FAB63"/><rect x="508.98" y="180.50" width="9.4" height="9.4" fill="#2FAB63"/><rect x="519.62" y="256.80" width="9.4" height="9.4" fill="#2FAB63"/><rect x="530.26" y="320.30" width="9.4" height="9.4" fill="#2FAB63"/><rect x="540.90" y="346.30" width="9.4" height="9.4" fill="#2FAB63"/><rect x="551.54" y="321.80" width="9.4" height="9.4" fill="#2FAB63"/><rect x="562.18" y="255.30" width="9.4" height="9.4" fill="#2FAB63"/><rect x="572.82" y="169.70" width="9.4" height="9.4" fill="#2FAB63"/><rect x="583.46" y="96.60" width="9.4" height="9.4" fill="#2FAB63"/><rect x="594.10" y="66.00" width="9.4" height="9.4" fill="#2FAB63"/><rect x="604.74" y="92.50" width="9.4" height="9.4" fill="#2FAB63"/><rect x="615.38" y="167.40" width="9.4" height="9.4" fill="#2FAB63"/><rect x="626.02" y="263.80" width="9.4" height="9.4" fill="#2FAB63"/><rect x="636.66" y="345.00" width="9.4" height="9.4" fill="#2FAB63"/><rect x="647.30" y="379.40" width="9.4" height="9.4" fill="#2FAB63"/>
</g>
<g font-family="Liberation Serif, serif" fill="#000" opacity="0.995">
<text transform="translate(68.74,12.40) scale(1.050,1.000)" font-size="18.5">0</text>
<text transform="translate(77.74,12.40) scale(1.050,1.000)" font-size="18.5">0</text>
<text transform="translate(86.48,12.40) scale(1.050,1.000)" font-size="18.5">1</text>
<text transform="translate(95.74,12.40) scale(1.050,1.000)" font-size="18.5">0</text>
<text transform="translate(59.35,12.40) scale(1.036,1.000)" font-size="18.5">.</text>
<text transform="translate(50.24,12.40) scale(1.050,1.000)" font-size="18.5">0</text>
<text transform="translate(68.74,55.30) scale(1.050,1.000)" font-size="18.5">0</text>
<text transform="translate(77.74,55.30) scale(1.050,1.000)" font-size="18.5">0</text>
<text transform="translate(86.74,55.30) scale(1.050,1.000)" font-size="18.5">0</text>
<text transform="translate(95.74,55.30) scale(1.050,1.000)" font-size="18.5">8</text>
<text transform="translate(59.35,55.30) scale(1.036,1.000)" font-size="18.5">.</text>
<text transform="translate(50.24,55.30) scale(1.050,1.000)" font-size="18.5">0</text>
<text transform="translate(68.74,98.20) scale(1.050,1.000)" font-size="18.5">0</text>
<text transform="translate(77.74,98.20) scale(1.050,1.000)" font-size="18.5">0</text>
<text transform="translate(86.74,98.20) scale(1.050,1.000)" font-size="18.5">0</text>
<text transform="translate(95.62,98.20) scale(1.050,1.000)" font-size="18.5">6</text>
<text transform="translate(59.35,98.20) scale(1.036,1.000)" font-size="18.5">.</text>
<text transform="translate(50.24,98.20) scale(1.050,1.000)" font-size="18.5">0</text>
<text transform="translate(68.74,141.10) scale(1.050,1.000)" font-size="18.5">0</text>
<text transform="translate(77.74,141.10) scale(1.050,1.000)" font-size="18.5">0</text>
<text transform="translate(86.74,141.10) scale(1.050,1.000)" font-size="18.5">0</text>
<text transform="translate(95.70,141.10) scale(1.050,1.000)" font-size="18.5">4</text>
<text transform="translate(59.35,141.10) scale(1.036,1.000)" font-size="18.5">.</text>
<text transform="translate(50.24,141.10) scale(1.050,1.000)" font-size="18.5">0</text>
<text transform="translate(68.74,184.00) scale(1.050,1.000)" font-size="18.5">0</text>
<text transform="translate(77.74,184.00) scale(1.050,1.000)" font-size="18.5">0</text>
<text transform="translate(86.74,184.00) scale(1.050,1.000)" font-size="18.5">0</text>
<text transform="translate(95.84,184.00) scale(1.050,1.000)" font-size="18.5">2</text>
<text transform="translate(59.35,184.00) scale(1.036,1.000)" font-size="18.5">.</text>
<text transform="translate(50.24,184.00) scale(1.050,1.000)" font-size="18.5">0</text>
<text transform="translate(68.74,226.90) scale(1.050,1.000)" font-size="18.5">0</text>
<text transform="translate(77.74,226.90) scale(1.050,1.000)" font-size="18.5">0</text>
<text transform="translate(86.74,226.90) scale(1.050,1.000)" font-size="18.5">0</text>
<text transform="translate(95.74,226.90) scale(1.050,1.000)" font-size="18.5">0</text>
<text transform="translate(59.35,226.90) scale(1.036,1.000)" font-size="18.5">.</text>
<text transform="translate(50.24,226.90) scale(1.050,1.000)" font-size="18.5">0</text>
<text transform="translate(68.74,269.80) scale(1.050,1.000)" font-size="18.5">0</text>
<text transform="translate(77.74,269.80) scale(1.050,1.000)" font-size="18.5">0</text>
<text transform="translate(86.74,269.80) scale(1.050,1.000)" font-size="18.5">0</text>
<text transform="translate(95.84,269.80) scale(1.050,1.000)" font-size="18.5">2</text>
<text transform="translate(59.35,269.80) scale(1.036,1.000)" font-size="18.5">.</text>
<text transform="translate(50.24,269.80) scale(1.050,1.000)" font-size="18.5">0</text>
<rect x="41.6" y="261.85" width="8.4" height="1.1" stroke="none"/>
<text transform="translate(68.74,312.70) scale(1.050,1.000)" font-size="18.5">0</text>
<text transform="translate(77.74,312.70) scale(1.050,1.000)" font-size="18.5">0</text>
<text transform="translate(86.74,312.70) scale(1.050,1.000)" font-size="18.5">0</text>
<text transform="translate(95.70,312.70) scale(1.050,1.000)" font-size="18.5">4</text>
<text transform="translate(59.35,312.70) scale(1.036,1.000)" font-size="18.5">.</text>
<text transform="translate(50.24,312.70) scale(1.050,1.000)" font-size="18.5">0</text>
<rect x="41.6" y="304.75" width="8.4" height="1.1" stroke="none"/>
<text transform="translate(68.74,355.60) scale(1.050,1.000)" font-size="18.5">0</text>
<text transform="translate(77.74,355.60) scale(1.050,1.000)" font-size="18.5">0</text>
<text transform="translate(86.74,355.60) scale(1.050,1.000)" font-size="18.5">0</text>
<text transform="translate(95.62,355.60) scale(1.050,1.000)" font-size="18.5">6</text>
<text transform="translate(59.35,355.60) scale(1.036,1.000)" font-size="18.5">.</text>
<text transform="translate(50.24,355.60) scale(1.050,1.000)" font-size="18.5">0</text>
<rect x="41.6" y="347.65" width="8.4" height="1.1" stroke="none"/>
<text transform="translate(68.74,398.50) scale(1.050,1.000)" font-size="18.5">0</text>
<text transform="translate(77.74,398.50) scale(1.050,1.000)" font-size="18.5">0</text>
<text transform="translate(86.74,398.50) scale(1.050,1.000)" font-size="18.5">0</text>
<text transform="translate(95.74,398.50) scale(1.050,1.000)" font-size="18.5">8</text>
<text transform="translate(59.35,398.50) scale(1.036,1.000)" font-size="18.5">.</text>
<text transform="translate(50.24,398.50) scale(1.050,1.000)" font-size="18.5">0</text>
<rect x="41.6" y="390.55" width="8.4" height="1.1" stroke="none"/>
<text transform="translate(68.74,441.40) scale(1.050,1.000)" font-size="18.5">0</text>
<text transform="translate(77.74,441.40) scale(1.050,1.000)" font-size="18.5">0</text>
<text transform="translate(86.48,441.40) scale(1.050,1.000)" font-size="18.5">1</text>
<text transform="translate(95.74,441.40) scale(1.050,1.000)" font-size="18.5">0</text>
<text transform="translate(59.35,441.40) scale(1.036,1.000)" font-size="18.5">.</text>
<text transform="translate(50.24,441.40) scale(1.050,1.000)" font-size="18.5">0</text>
<rect x="41.6" y="433.45" width="8.4" height="1.1" stroke="none"/>
<text transform="translate(101.14,463.30) scale(1.050,1.000)" font-size="18.5">0</text>
<text transform="translate(110.75,463.30) scale(1.081,1.000)" font-size="18.5">.</text>
<text transform="translate(120.14,463.30) scale(1.050,1.000)" font-size="18.5">0</text>
<text transform="translate(129.04,463.30) scale(1.050,1.000)" font-size="18.5">0</text>
<text transform="translate(207.54,463.30) scale(1.050,1.000)" font-size="18.5">0</text>
<text transform="translate(217.15,463.30) scale(1.081,1.000)" font-size="18.5">.</text>
<text transform="translate(226.54,463.30) scale(1.050,1.000)" font-size="18.5">0</text>
<text transform="translate(235.27,463.30) scale(1.050,1.000)" font-size="18.5">5</text>
<text transform="translate(313.94,463.30) scale(1.050,1.000)" font-size="18.5">0</text>
<text transform="translate(323.55,463.30) scale(1.081,1.000)" font-size="18.5">.</text>
<text transform="translate(332.68,463.30) scale(1.050,1.000)" font-size="18.5">1</text>
<text transform="translate(341.84,463.30) scale(1.050,1.000)" font-size="18.5">0</text>
<text transform="translate(420.34,463.30) scale(1.050,1.000)" font-size="18.5">0</text>
<text transform="translate(429.95,463.30) scale(1.081,1.000)" font-size="18.5">.</text>
<text transform="translate(439.08,463.30) scale(1.050,1.000)" font-size="18.5">1</text>
<text transform="translate(448.07,463.30) scale(1.050,1.000)" font-size="18.5">5</text>
<text transform="translate(526.74,463.30) scale(1.050,1.000)" font-size="18.5">0</text>
<text transform="translate(536.35,463.30) scale(1.081,1.000)" font-size="18.5">.</text>
<text transform="translate(545.84,463.30) scale(1.050,1.000)" font-size="18.5">2</text>
<text transform="translate(554.64,463.30) scale(1.050,1.000)" font-size="18.5">0</text>
<text transform="translate(633.14,463.30) scale(1.050,1.000)" font-size="18.5">0</text>
<text transform="translate(642.75,463.30) scale(1.081,1.000)" font-size="18.5">.</text>
<text transform="translate(652.24,463.30) scale(1.050,1.000)" font-size="18.5">2</text>
<text transform="translate(660.87,463.30) scale(1.050,1.000)" font-size="18.5">5</text>
</g>
<g font-family="Liberation Serif, serif" fill="#000" opacity="0.995">
<text transform="translate(341.81,496.50) scale(0.747,1.000)" font-size="22.5">T</text>
<text transform="translate(354.30,496.50) scale(1.111,0.950)" font-size="22.5">i</text>
<text transform="translate(363.51,496.50) scale(0.652,0.950)" font-size="22.5">m</text>
<text transform="translate(375.36,496.50) scale(0.937,0.950)" font-size="22.5">e</text>
<text transform="translate(400.63,494.70) scale(0.959,1.000)" font-size="22.5">(</text>
<text transform="translate(408.92,496.50) scale(1.150,0.950)" font-size="22.5">s</text>
<text transform="translate(419.47,494.70) scale(1.001,1.000)" font-size="22.5">)</text>
<g stroke="#fff" stroke-width="0.2">
<text transform="translate(17.60,385.77) rotate(-90) scale(0.695,1.000)" font-size="22.5">D</text>
<text transform="translate(17.60,373.43) rotate(-90) scale(0.944,0.900)" font-size="22.5">i</text>
<text transform="translate(17.60,365.47) rotate(-90) scale(1.081,0.900)" font-size="22.5">s</text>
<text transform="translate(17.60,354.30) rotate(-90) scale(0.899,0.900)" font-size="22.5">p</text>
<text transform="translate(17.60,341.89) rotate(-90) scale(1.150,0.900)" font-size="22.5">l</text>
<text transform="translate(17.60,331.56) rotate(-90) scale(0.968,0.900)" font-size="22.5">a</text>
<text transform="translate(17.60,320.03) rotate(-90) scale(0.984,0.900)" font-size="22.5">c</text>
<text transform="translate(17.60,308.50) rotate(-90) scale(0.997,0.900)" font-size="22.5">e</text>
<text transform="translate(17.60,297.40) rotate(-90) scale(0.658,0.900)" font-size="22.5">m</text>
<text transform="translate(17.60,286.05) rotate(-90) scale(1.057,0.900)" font-size="22.5">e</text>
<text transform="translate(17.60,273.81) rotate(-90) scale(0.807,0.900)" font-size="22.5">n</text>
<text transform="translate(17.60,262.45) rotate(-90) scale(1.150,0.900)" font-size="22.5">t</text>
<text transform="translate(17.60,239.67) rotate(-90) scale(1.056,0.900)" font-size="22.5">i</text>
<text transform="translate(17.60,228.90) rotate(-90) scale(0.788,0.900)" font-size="22.5">n</text>
<text transform="translate(17.60,208.24) rotate(-90) scale(0.640,1.000)" font-size="22.5">Y</text>
<text transform="translate(17.60,185.28) rotate(-90) scale(0.864,0.900)" font-size="22.5">d</text>
<text transform="translate(17.60,173.46) rotate(-90) scale(1.019,0.900)" font-size="22.5">i</text>
<text transform="translate(17.60,163.07) rotate(-90) scale(1.049,0.900)" font-size="22.5">r</text>
<text transform="translate(17.60,152.33) rotate(-90) scale(0.925,0.900)" font-size="22.5">e</text>
<text transform="translate(17.60,139.94) rotate(-90) scale(1.114,0.900)" font-size="22.5">c</text>
<text transform="translate(17.60,127.20) rotate(-90) scale(1.150,0.900)" font-size="22.5">t</text>
<text transform="translate(17.60,116.37) rotate(-90) scale(1.037,0.900)" font-size="22.5">i</text>
<text transform="translate(17.60,107.18) rotate(-90) scale(0.805,0.900)" font-size="22.5">o</text>
<text transform="translate(17.60,95.30) rotate(-90) scale(0.788,0.900)" font-size="22.5">n</text>
<text transform="translate(15.40,81.59) rotate(-90) scale(0.976,0.950)" font-size="22.5">(</text>
<text transform="translate(17.60,74.27) rotate(-90) scale(0.599,0.900)" font-size="22.5">m</text>
<text transform="translate(15.40,63.26) rotate(-90) scale(1.036,0.950)" font-size="22.5">)</text>
</g>
</g>
<rect x="128.5" y="16.6" width="83" height="100.5" fill="#fff" stroke="#333" stroke-width="1"/>
<path d="M130.8,31.0H146.9M159.5,31.0H175.6" stroke="#4A4A4A" stroke-width="1.5" stroke-opacity="0.7" fill="none"/>
<rect x="148.50" y="26.30" width="9.4" height="9.4" fill="#4A4A4A"/>
<path d="M130.8,55.05H146.9M159.5,55.05H175.6" stroke="#F14040" stroke-width="1.5" stroke-opacity="0.7" fill="none"/>
<circle cx="153.20" cy="55.05" r="5.1" fill="#F14040"/>
<path d="M130.8,79.3H146.9M159.5,79.3H175.6" stroke="#1A6FDF" stroke-width="1.5" stroke-opacity="0.7" fill="none"/>
<path d="M153.20,72.23 L159.60,82.83 L146.80,82.83 Z" fill="#1A6FDF"/>
<path d="M130.8,103.5H146.9M159.5,103.5H175.6" stroke="#2FAB63" stroke-width="1.5" stroke-opacity="0.7" fill="none"/>
<rect x="148.50" y="98.80" width="9.4" height="9.4" fill="#2FAB63"/>
<g font-family="Liberation Serif, serif" fill="#000" stroke="#000" stroke-width="0.15" opacity="0.995">
<text transform="translate(185.88,39.00) scale(0.889,1.000)" font-size="23.2">P</text>
<text transform="translate(197.74,39.00) scale(0.868,1.000)" font-size="23.2">1</text>
<text transform="translate(185.88,63.05) scale(0.889,1.000)" font-size="23.2">P</text>
<text transform="translate(197.54,63.05) scale(0.916,1.000)" font-size="23.2">2</text>
<text transform="translate(185.89,87.30) scale(0.871,1.000)" font-size="23.2">P</text>
<text transform="translate(197.51,87.30) scale(0.899,1.000)" font-size="23.2">3</text>
<text transform="translate(186.00,111.50) scale(0.716,1.000)" font-size="23.2">H</text>
<text transform="translate(197.60,111.50) scale(0.918,1.000)" font-size="23.2">6</text>
</g>
</g>
</svg></div>
</body></html>
